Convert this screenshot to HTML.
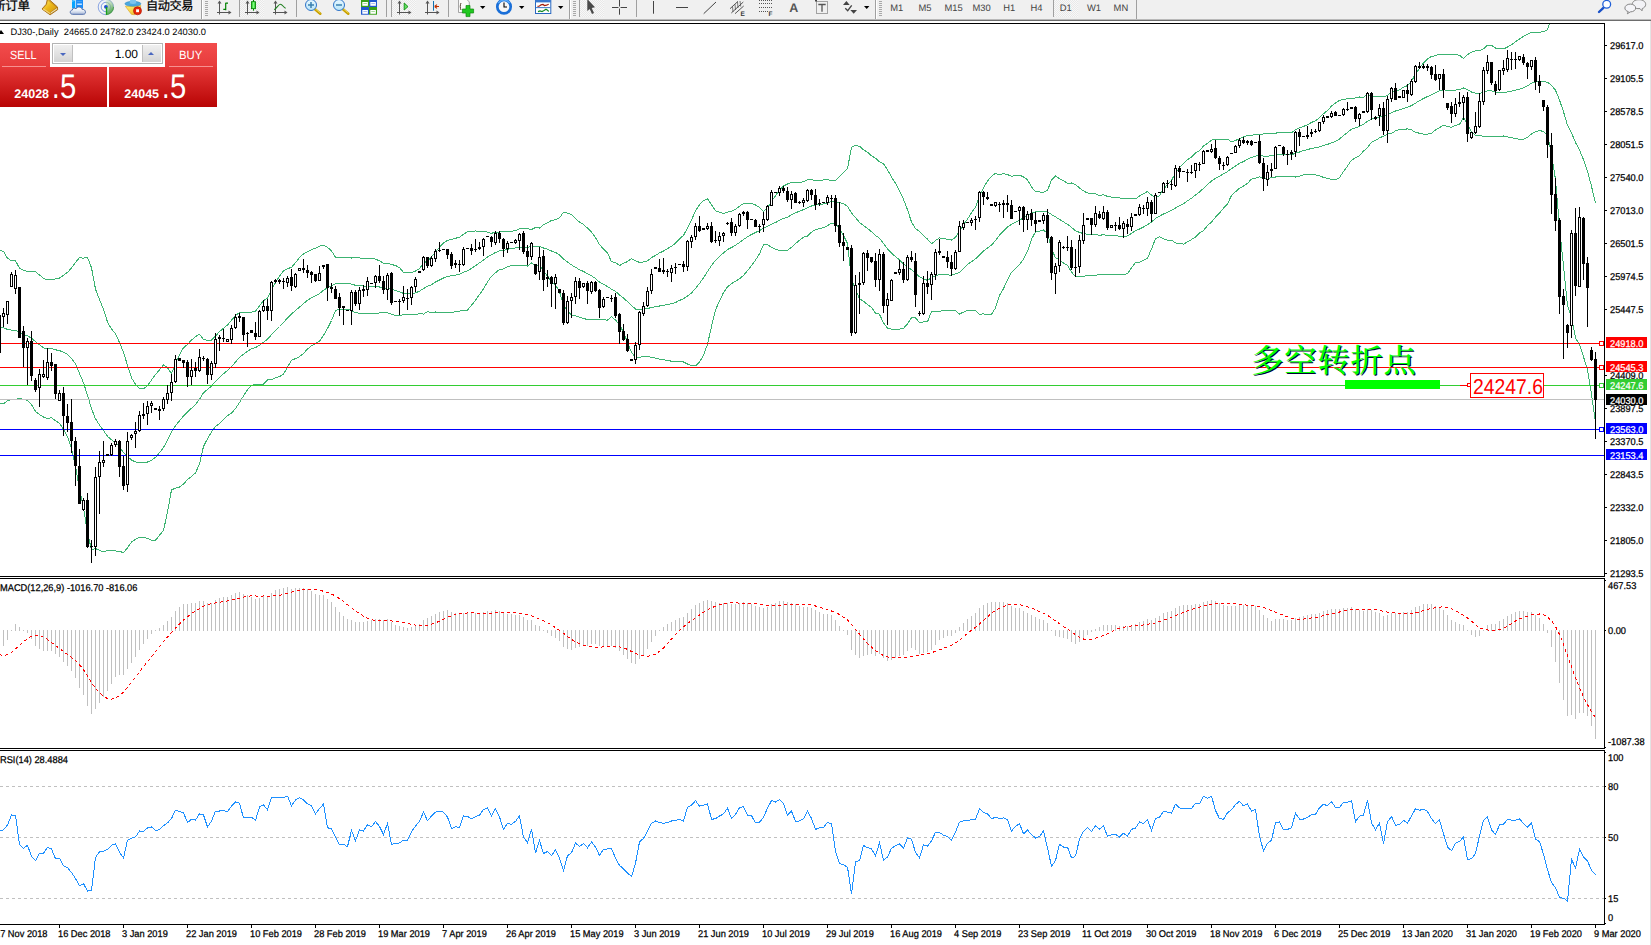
<!DOCTYPE html>
<html><head><meta charset="utf-8"><title>DJ30-,Daily</title>
<style>
html,body{margin:0;padding:0;background:#fff;}
body{width:1651px;height:945px;position:relative;overflow:hidden;font-family:"Liberation Sans", "Noto Sans CJK SC", sans-serif;text-rendering:geometricPrecision;}
</style></head><body>
<svg id="chart" width="1651" height="945" viewBox="0 0 1651 945" style="position:absolute;left:0;top:0" font-family='"Liberation Sans", "Noto Sans CJK SC", sans-serif' font-size="9.8" text-rendering="geometricPrecision"><style>.k{stroke:#000;stroke-width:.25px}.w{stroke:#fff;stroke-width:.25px}.k,.w{transform-box:fill-box;transform-origin:0 0;transform:scaleX(0.945)}</style><defs><clipPath id="cpMain"><rect x="0" y="24" width="1604" height="552"/></clipPath><clipPath id="cpMacd"><rect x="0" y="579" width="1604" height="169"/></clipPath><clipPath id="cpRsi"><rect x="0" y="751" width="1604" height="173"/></clipPath></defs><g clip-path="url(#cpMain)" fill="none" stroke="#3CB371" stroke-width="1" shape-rendering="crispEdges"><polyline points="-0.5,249.9 3.5,251.5 7.5,258.2 11.5,260.8 15.5,260.8 19.5,268.1 23.5,270.1 27.5,271.5 31.5,271.4 35.5,271.8 39.5,274.9 43.5,278.5 47.5,279.7 51.5,279.8 55.5,278.8 59.5,278.0 63.5,275.4 67.5,272.3 71.5,268.1 75.5,262.3 79.5,257.6 83.5,258.2 87.5,257.3 91.5,267.7 95.5,289.1 99.5,299.6 103.5,309.5 107.5,322.1 111.5,328.9 115.5,333.8 119.5,342.6 123.5,352.6 127.5,365.2 131.5,377.9 135.5,384.4 139.5,388.8 143.5,388.7 147.5,385.6 151.5,380.0 155.5,374.4 159.5,370.0 163.5,364.8 167.5,367.6 171.5,373.7 175.5,363.4 179.5,354.6 183.5,347.7 187.5,344.4 191.5,340.1 195.5,336.5 199.5,334.3 203.5,339.3 207.5,340.3 211.5,340.1 215.5,336.2 219.5,331.6 223.5,328.2 227.5,325.0 231.5,320.3 235.5,315.4 239.5,312.4 243.5,312.5 247.5,312.6 251.5,312.2 255.5,311.1 259.5,305.9 263.5,300.5 267.5,298.4 271.5,289.5 275.5,282.7 279.5,276.2 283.5,271.0 287.5,268.5 291.5,267.5 295.5,262.6 299.5,257.6 303.5,253.9 307.5,251.7 311.5,249.6 315.5,248.2 319.5,246.1 323.5,245.1 327.5,247.4 331.5,250.9 335.5,257.2 339.5,257.7 343.5,257.6 347.5,257.7 351.5,258.0 355.5,257.7 359.5,258.0 363.5,258.5 367.5,258.9 371.5,258.7 375.5,259.1 379.5,260.9 383.5,263.1 387.5,263.3 391.5,264.6 395.5,265.4 399.5,267.7 403.5,272.4 407.5,273.0 411.5,272.8 415.5,271.0 419.5,268.7 423.5,263.0 427.5,261.1 431.5,256.7 435.5,252.0 439.5,247.1 443.5,243.1 447.5,240.3 451.5,239.3 455.5,238.3 459.5,237.2 463.5,234.3 467.5,231.8 471.5,231.3 475.5,231.0 479.5,231.4 483.5,231.2 487.5,232.2 491.5,233.3 495.5,232.2 499.5,232.0 503.5,231.8 507.5,231.8 511.5,231.4 515.5,230.5 519.5,228.8 523.5,228.8 527.5,228.7 531.5,229.5 535.5,227.5 539.5,228.1 543.5,224.6 547.5,222.8 551.5,220.4 555.5,219.8 559.5,217.8 563.5,212.3 567.5,213.2 571.5,214.6 575.5,218.7 579.5,222.1 583.5,224.5 587.5,228.1 591.5,232.2 595.5,237.5 599.5,244.6 603.5,249.0 607.5,252.8 611.5,261.8 615.5,262.5 619.5,265.5 623.5,263.4 627.5,261.5 631.5,258.6 635.5,260.9 639.5,262.4 643.5,261.9 647.5,260.9 651.5,257.6 655.5,255.4 659.5,252.9 663.5,251.1 667.5,248.5 671.5,246.3 675.5,243.1 679.5,238.8 683.5,235.5 687.5,227.8 691.5,220.1 695.5,210.9 699.5,204.8 703.5,200.5 707.5,198.9 711.5,204.7 715.5,210.8 719.5,212.1 723.5,213.4 727.5,212.2 731.5,211.2 735.5,209.3 739.5,206.2 743.5,203.6 747.5,203.2 751.5,203.3 755.5,205.0 759.5,207.3 763.5,211.5 767.5,208.2 771.5,201.1 775.5,195.7 779.5,190.1 783.5,186.0 787.5,184.0 791.5,182.2 795.5,182.2 799.5,182.2 803.5,181.9 807.5,179.7 811.5,179.8 815.5,180.4 819.5,180.3 823.5,180.0 827.5,179.9 831.5,180.2 835.5,180.4 839.5,176.4 843.5,172.3 847.5,168.7 851.5,147.1 855.5,145.5 859.5,146.3 863.5,149.7 867.5,152.2 871.5,155.9 875.5,158.2 879.5,161.9 883.5,163.9 887.5,169.8 891.5,177.0 895.5,183.3 899.5,190.7 903.5,199.3 907.5,209.7 911.5,222.0 915.5,228.8 919.5,231.3 923.5,235.3 927.5,239.2 931.5,243.8 935.5,240.6 939.5,237.8 943.5,238.7 947.5,239.2 951.5,240.0 955.5,237.2 959.5,231.2 963.5,224.7 967.5,219.1 971.5,212.7 975.5,207.1 979.5,195.8 983.5,187.8 987.5,181.1 991.5,176.2 995.5,173.2 999.5,174.9 1003.5,173.6 1007.5,174.5 1011.5,176.3 1015.5,175.7 1019.5,175.2 1023.5,176.9 1027.5,179.8 1031.5,187.0 1035.5,191.7 1039.5,192.0 1043.5,192.2 1047.5,190.3 1051.5,180.2 1055.5,175.9 1059.5,178.7 1063.5,180.8 1067.5,183.2 1071.5,183.0 1075.5,184.6 1079.5,187.9 1083.5,190.9 1087.5,193.0 1091.5,193.6 1095.5,193.9 1099.5,195.7 1103.5,194.7 1107.5,196.4 1111.5,197.1 1115.5,197.2 1119.5,197.8 1123.5,199.0 1127.5,198.2 1131.5,198.7 1135.5,198.9 1139.5,195.9 1143.5,193.9 1147.5,191.4 1151.5,195.1 1155.5,198.1 1159.5,195.5 1163.5,189.2 1167.5,184.3 1171.5,180.4 1175.5,173.1 1179.5,167.7 1183.5,163.2 1187.5,159.8 1191.5,156.9 1195.5,153.1 1199.5,150.7 1203.5,146.0 1207.5,143.4 1211.5,140.1 1215.5,139.3 1219.5,139.1 1223.5,139.7 1227.5,139.3 1231.5,141.7 1235.5,140.4 1239.5,138.7 1243.5,136.9 1247.5,135.4 1251.5,135.7 1255.5,134.2 1259.5,134.7 1263.5,133.8 1267.5,133.8 1271.5,134.0 1275.5,133.2 1279.5,132.4 1283.5,132.6 1287.5,132.7 1291.5,133.0 1295.5,129.6 1299.5,127.9 1303.5,126.5 1307.5,124.7 1311.5,122.5 1315.5,120.7 1319.5,117.8 1323.5,113.7 1327.5,110.5 1331.5,106.1 1335.5,102.9 1339.5,100.4 1343.5,99.6 1347.5,98.8 1351.5,98.5 1355.5,97.9 1359.5,97.0 1363.5,97.3 1367.5,94.5 1371.5,96.1 1375.5,96.1 1379.5,96.1 1383.5,96.8 1387.5,95.4 1391.5,91.6 1395.5,91.2 1399.5,89.9 1403.5,87.2 1407.5,85.6 1411.5,81.3 1415.5,73.9 1419.5,68.3 1423.5,63.0 1427.5,58.9 1431.5,56.4 1435.5,55.7 1439.5,54.2 1443.5,54.4 1447.5,54.3 1451.5,54.1 1455.5,54.8 1459.5,55.1 1463.5,58.7 1467.5,54.6 1471.5,52.2 1475.5,50.9 1479.5,51.0 1483.5,48.8 1487.5,45.2 1491.5,45.4 1495.5,48.1 1499.5,48.4 1503.5,48.9 1507.5,47.1 1511.5,44.7 1515.5,41.7 1519.5,39.1 1523.5,36.4 1527.5,34.4 1531.5,32.3 1535.5,32.1 1539.5,32.1 1543.5,31.8 1547.5,29.7 1551.5,16.5 1555.5,0.7 1559.5,-27.2 1563.5,-42.6 1567.5,-54.8 1571.5,-52.0 1575.5,-52.7 1579.5,-45.0 1583.5,-37.4 1587.5,-27.7 1591.5,-21.7 1595.5,-15.8"/><polyline points="-0.5,326.8 3.5,327.6 7.5,329.5 11.5,330.1 15.5,330.1 19.5,333.1 23.5,334.8 27.5,335.9 31.5,338.1 35.5,341.6 39.5,344.7 43.5,347.8 47.5,349.0 51.5,348.7 55.5,349.8 59.5,350.6 63.5,352.3 67.5,354.4 71.5,358.4 75.5,364.0 79.5,373.5 83.5,382.8 87.5,395.2 91.5,408.7 95.5,418.8 99.5,425.0 103.5,430.6 107.5,436.3 111.5,439.8 115.5,442.4 119.5,447.0 123.5,452.6 127.5,456.5 131.5,460.0 135.5,461.9 139.5,463.0 143.5,462.9 147.5,462.0 151.5,460.2 155.5,457.4 159.5,452.7 163.5,447.6 167.5,439.9 171.5,431.7 175.5,425.8 179.5,420.8 183.5,415.9 187.5,412.0 191.5,408.2 195.5,404.7 199.5,399.2 203.5,392.8 207.5,389.5 211.5,386.0 215.5,381.4 219.5,377.6 223.5,373.7 227.5,370.4 231.5,366.6 235.5,362.0 239.5,357.4 243.5,354.2 247.5,351.2 251.5,348.8 255.5,347.7 259.5,345.2 263.5,342.4 267.5,339.1 271.5,334.7 275.5,330.2 279.5,326.5 283.5,322.6 287.5,317.8 291.5,313.9 295.5,310.6 299.5,307.1 303.5,303.6 307.5,300.3 311.5,297.7 315.5,295.9 319.5,293.7 323.5,290.2 327.5,287.9 331.5,285.7 335.5,283.8 339.5,283.6 343.5,283.7 347.5,283.7 351.5,284.1 355.5,285.3 359.5,285.6 363.5,286.1 367.5,286.3 371.5,286.2 375.5,286.3 379.5,287.0 383.5,288.0 387.5,288.1 391.5,289.4 395.5,290.5 399.5,291.8 403.5,293.4 407.5,293.9 411.5,293.8 415.5,292.9 419.5,291.1 423.5,288.6 427.5,286.3 431.5,284.7 435.5,282.0 439.5,280.0 443.5,278.0 447.5,276.6 451.5,275.8 455.5,275.1 459.5,274.2 463.5,272.2 467.5,270.9 471.5,268.3 475.5,265.7 479.5,262.9 483.5,260.0 487.5,257.0 491.5,254.7 495.5,252.5 499.5,250.8 503.5,250.4 507.5,249.2 511.5,248.5 515.5,247.9 519.5,247.2 523.5,247.2 527.5,247.4 531.5,246.2 535.5,246.8 539.5,246.4 543.5,248.0 547.5,249.3 551.5,251.0 555.5,252.4 559.5,254.8 563.5,258.9 567.5,262.1 571.5,264.9 575.5,267.3 579.5,269.7 583.5,271.4 587.5,273.9 591.5,275.8 595.5,278.4 599.5,282.1 603.5,284.4 607.5,286.5 611.5,289.2 615.5,291.3 619.5,295.0 623.5,298.0 627.5,301.7 631.5,305.6 635.5,309.0 639.5,309.9 643.5,309.1 647.5,308.6 651.5,307.4 655.5,306.8 659.5,306.0 663.5,305.4 667.5,304.4 671.5,303.7 675.5,302.5 679.5,300.4 683.5,298.8 687.5,295.9 691.5,292.9 695.5,288.4 699.5,283.4 703.5,277.8 707.5,271.6 711.5,265.6 715.5,260.4 719.5,256.6 723.5,252.9 727.5,249.5 731.5,247.5 735.5,245.3 739.5,242.5 743.5,239.5 747.5,236.9 751.5,234.5 755.5,232.5 759.5,230.6 763.5,228.2 767.5,226.4 771.5,224.2 775.5,222.5 779.5,220.4 783.5,218.4 787.5,217.1 791.5,214.8 795.5,212.9 799.5,211.2 803.5,209.6 807.5,207.9 811.5,206.0 815.5,205.0 819.5,204.4 823.5,203.9 827.5,202.8 831.5,201.7 835.5,201.7 839.5,202.5 843.5,203.9 847.5,206.1 851.5,213.1 855.5,217.7 859.5,222.4 863.5,225.5 867.5,228.4 871.5,231.8 875.5,235.6 879.5,238.1 883.5,243.5 887.5,248.9 891.5,253.2 895.5,256.6 899.5,259.9 903.5,263.8 907.5,266.8 911.5,269.8 915.5,273.3 919.5,276.8 923.5,278.7 927.5,280.5 931.5,277.6 935.5,276.0 939.5,274.5 943.5,274.8 947.5,274.9 951.5,275.3 955.5,273.9 959.5,272.6 963.5,268.4 967.5,264.6 971.5,261.6 975.5,258.9 979.5,255.0 983.5,250.9 987.5,248.0 991.5,245.2 995.5,240.6 999.5,235.1 1003.5,231.1 1007.5,227.0 1011.5,224.3 1015.5,222.2 1019.5,220.0 1023.5,218.0 1027.5,215.6 1031.5,213.1 1035.5,211.7 1039.5,211.5 1043.5,211.1 1047.5,211.9 1051.5,214.5 1055.5,216.9 1059.5,219.4 1063.5,221.9 1067.5,224.3 1071.5,227.4 1075.5,230.7 1079.5,232.4 1083.5,233.6 1087.5,234.2 1091.5,234.5 1095.5,234.6 1099.5,235.2 1103.5,234.8 1107.5,235.5 1111.5,235.8 1115.5,235.8 1119.5,236.2 1123.5,236.6 1127.5,236.0 1131.5,233.3 1135.5,230.7 1139.5,229.0 1143.5,227.0 1147.5,224.8 1151.5,222.0 1155.5,218.5 1159.5,216.1 1163.5,214.0 1167.5,212.2 1171.5,210.2 1175.5,208.0 1179.5,205.7 1183.5,203.7 1187.5,200.9 1191.5,198.2 1195.5,195.1 1199.5,191.9 1203.5,188.3 1207.5,184.5 1211.5,181.1 1215.5,178.2 1219.5,176.1 1223.5,173.9 1227.5,171.6 1231.5,168.6 1235.5,166.1 1239.5,163.4 1243.5,161.5 1247.5,159.3 1251.5,157.4 1255.5,156.1 1259.5,155.7 1263.5,156.1 1267.5,156.1 1271.5,155.9 1275.5,155.1 1279.5,154.2 1283.5,154.4 1287.5,154.5 1291.5,154.7 1295.5,153.3 1299.5,152.0 1303.5,150.6 1307.5,149.5 1311.5,148.5 1315.5,147.8 1319.5,146.9 1323.5,145.5 1327.5,144.4 1331.5,142.8 1335.5,141.4 1339.5,139.0 1343.5,135.5 1347.5,132.4 1351.5,129.3 1355.5,127.9 1359.5,126.3 1363.5,124.2 1367.5,121.2 1371.5,119.1 1375.5,118.3 1379.5,116.9 1383.5,116.6 1387.5,114.7 1391.5,112.6 1395.5,111.0 1399.5,109.8 1403.5,108.4 1407.5,107.2 1411.5,105.6 1415.5,103.1 1419.5,100.7 1423.5,98.5 1427.5,96.5 1431.5,94.8 1435.5,92.9 1439.5,90.9 1443.5,89.7 1447.5,90.5 1451.5,90.7 1455.5,90.1 1459.5,89.7 1463.5,88.0 1467.5,89.8 1471.5,92.0 1475.5,93.3 1479.5,93.5 1483.5,92.4 1487.5,90.8 1491.5,90.9 1495.5,92.2 1499.5,92.3 1503.5,92.4 1507.5,91.9 1511.5,91.2 1515.5,90.1 1519.5,89.2 1523.5,87.9 1527.5,85.8 1531.5,83.1 1535.5,82.0 1539.5,81.2 1543.5,81.7 1547.5,82.3 1551.5,85.4 1555.5,90.2 1559.5,100.0 1563.5,111.7 1567.5,125.3 1571.5,132.8 1575.5,142.6 1579.5,149.9 1583.5,159.7 1587.5,171.2 1591.5,186.2 1595.5,203.3"/><polyline points="-0.5,403.8 3.5,403.7 7.5,400.8 11.5,399.3 15.5,399.4 19.5,398.1 23.5,399.5 27.5,400.2 31.5,404.7 35.5,411.4 39.5,414.5 43.5,417.0 47.5,418.4 51.5,417.7 55.5,420.8 59.5,423.3 63.5,429.2 67.5,436.6 71.5,448.8 75.5,465.8 79.5,489.3 83.5,507.5 87.5,533.0 91.5,549.7 95.5,548.5 99.5,550.4 103.5,551.7 107.5,550.6 111.5,550.7 115.5,550.9 119.5,551.4 123.5,552.6 127.5,547.8 131.5,542.0 135.5,539.3 139.5,537.1 143.5,537.1 147.5,538.5 151.5,540.3 155.5,540.3 159.5,535.3 163.5,530.4 167.5,512.2 171.5,489.8 175.5,488.2 179.5,487.0 183.5,484.1 187.5,479.6 191.5,476.4 195.5,472.9 199.5,464.1 203.5,446.4 207.5,438.8 211.5,431.8 215.5,426.5 219.5,423.6 223.5,419.3 227.5,415.8 231.5,413.0 235.5,408.6 239.5,402.5 243.5,395.9 247.5,389.8 251.5,385.3 255.5,384.3 259.5,384.5 263.5,384.2 267.5,379.8 271.5,379.9 275.5,377.8 279.5,376.7 283.5,374.3 287.5,367.1 291.5,360.3 295.5,358.6 299.5,356.6 303.5,353.4 307.5,349.0 311.5,345.8 315.5,343.7 319.5,341.3 323.5,335.4 327.5,328.5 331.5,320.5 335.5,310.4 339.5,309.5 343.5,309.8 347.5,309.6 351.5,310.3 355.5,312.8 359.5,313.2 363.5,313.7 367.5,313.7 371.5,313.6 375.5,313.6 379.5,313.0 383.5,312.9 387.5,312.8 391.5,314.3 395.5,315.5 399.5,316.0 403.5,314.4 407.5,314.9 411.5,314.9 415.5,314.7 419.5,313.4 423.5,314.1 427.5,311.6 431.5,312.6 435.5,312.0 439.5,312.9 443.5,312.9 447.5,312.9 451.5,312.2 455.5,311.9 459.5,311.3 463.5,310.0 467.5,310.0 471.5,305.3 475.5,300.3 479.5,294.5 483.5,288.9 487.5,281.8 491.5,276.2 495.5,272.7 499.5,269.5 503.5,268.9 507.5,266.6 511.5,265.6 515.5,265.3 519.5,265.5 523.5,265.7 527.5,266.1 531.5,263.0 535.5,266.0 539.5,264.7 543.5,271.3 547.5,275.9 551.5,281.6 555.5,285.1 559.5,291.7 563.5,305.5 567.5,311.1 571.5,315.2 575.5,315.9 579.5,317.3 583.5,318.4 587.5,319.6 591.5,319.4 595.5,319.3 599.5,319.5 603.5,319.8 607.5,320.1 611.5,316.6 615.5,320.1 619.5,324.5 623.5,332.6 627.5,341.9 631.5,352.6 635.5,357.1 639.5,357.5 643.5,356.3 647.5,356.3 651.5,357.3 655.5,358.2 659.5,359.1 663.5,359.7 667.5,360.4 671.5,361.2 675.5,361.9 679.5,361.9 683.5,362.0 687.5,364.0 691.5,365.6 695.5,365.9 699.5,362.0 703.5,355.2 707.5,344.3 711.5,326.5 715.5,309.9 719.5,301.1 723.5,292.5 727.5,286.9 731.5,283.7 735.5,281.3 739.5,278.8 743.5,275.4 747.5,270.6 751.5,265.7 755.5,260.0 759.5,253.8 763.5,244.8 767.5,244.6 771.5,247.2 775.5,249.3 779.5,250.6 783.5,250.9 787.5,250.3 791.5,247.3 795.5,243.6 799.5,240.3 803.5,237.2 807.5,236.1 811.5,232.2 815.5,229.5 819.5,228.6 823.5,227.8 827.5,225.7 831.5,223.2 835.5,222.9 839.5,228.6 843.5,235.4 847.5,243.4 851.5,279.1 855.5,289.9 859.5,298.5 863.5,301.3 867.5,304.6 871.5,307.6 875.5,313.0 879.5,314.3 883.5,323.0 887.5,328.0 891.5,329.3 895.5,329.9 899.5,329.1 903.5,328.3 907.5,323.8 911.5,317.7 915.5,317.9 919.5,322.4 923.5,322.0 927.5,321.9 931.5,311.4 935.5,311.4 939.5,311.1 943.5,310.8 947.5,310.7 951.5,310.7 955.5,310.7 959.5,314.0 963.5,312.1 967.5,310.1 971.5,310.5 975.5,310.7 979.5,314.2 983.5,313.9 987.5,314.8 991.5,314.3 995.5,308.0 999.5,295.4 1003.5,288.7 1007.5,279.6 1011.5,272.2 1015.5,268.7 1019.5,264.7 1023.5,259.2 1027.5,251.4 1031.5,239.3 1035.5,231.8 1039.5,231.1 1043.5,230.0 1047.5,233.4 1051.5,248.8 1055.5,257.8 1059.5,260.0 1063.5,263.0 1067.5,265.4 1071.5,271.9 1075.5,276.7 1079.5,277.0 1083.5,276.2 1087.5,275.5 1091.5,275.4 1095.5,275.3 1099.5,274.6 1103.5,274.9 1107.5,274.6 1111.5,274.5 1115.5,274.5 1119.5,274.5 1123.5,274.2 1127.5,273.9 1131.5,267.8 1135.5,262.6 1139.5,262.1 1143.5,260.1 1147.5,258.1 1151.5,249.0 1155.5,238.8 1159.5,236.7 1163.5,238.7 1167.5,240.2 1171.5,240.1 1175.5,242.9 1179.5,243.6 1183.5,244.1 1187.5,241.9 1191.5,239.5 1195.5,237.1 1199.5,233.0 1203.5,230.5 1207.5,225.6 1211.5,222.0 1215.5,217.1 1219.5,213.1 1223.5,208.1 1227.5,203.9 1231.5,195.4 1235.5,191.8 1239.5,188.2 1243.5,186.1 1247.5,183.3 1251.5,179.1 1255.5,178.1 1259.5,176.8 1263.5,178.4 1267.5,178.4 1271.5,177.8 1275.5,177.0 1279.5,176.1 1283.5,176.2 1287.5,176.3 1291.5,176.3 1295.5,177.0 1299.5,176.1 1303.5,174.8 1307.5,174.4 1311.5,174.5 1315.5,174.8 1319.5,175.9 1323.5,177.4 1327.5,178.4 1331.5,179.5 1335.5,179.9 1339.5,177.6 1343.5,171.5 1347.5,166.0 1351.5,160.2 1355.5,157.9 1359.5,155.7 1363.5,151.1 1367.5,147.8 1371.5,142.1 1375.5,140.6 1379.5,137.7 1383.5,136.3 1387.5,134.1 1391.5,133.5 1395.5,130.8 1399.5,129.6 1403.5,129.6 1407.5,128.8 1411.5,129.9 1415.5,132.4 1419.5,133.2 1423.5,134.1 1427.5,134.1 1431.5,133.2 1435.5,130.0 1439.5,127.6 1443.5,125.1 1447.5,126.7 1451.5,127.3 1455.5,125.3 1459.5,124.4 1463.5,117.3 1467.5,124.9 1471.5,131.7 1475.5,135.7 1479.5,135.9 1483.5,136.1 1487.5,136.5 1491.5,136.5 1495.5,136.3 1499.5,136.2 1503.5,136.0 1507.5,136.8 1511.5,137.7 1515.5,138.5 1519.5,139.4 1523.5,139.3 1527.5,137.2 1531.5,134.0 1535.5,131.9 1539.5,130.3 1543.5,131.7 1547.5,134.9 1551.5,154.4 1555.5,179.6 1559.5,227.1 1563.5,266.0 1567.5,305.3 1571.5,317.6 1575.5,337.8 1579.5,344.8 1583.5,356.8 1587.5,370.0 1591.5,394.2 1595.5,422.3"/></g><g shape-rendering="crispEdges"><rect x="0" y="399" width="1604" height="1" fill="#c0c0c0"/><rect x="0" y="343" width="1604" height="1" fill="#ff0000"/><rect x="0" y="367" width="1604" height="1" fill="#ff0000"/><rect x="0" y="385" width="1604" height="1" fill="#32CD32"/><rect x="0" y="429" width="1604" height="1" fill="#0000ff"/><rect x="0" y="455" width="1604" height="1" fill="#0000ff"/><rect x="1599.5" y="341.5" width="4" height="4" fill="#fff" stroke="#ff0000" stroke-width="1"/><rect x="1599.5" y="365.5" width="4" height="4" fill="#fff" stroke="#ff0000" stroke-width="1"/><rect x="1599.5" y="383.5" width="4" height="4" fill="#fff" stroke="#32CD32" stroke-width="1"/><rect x="1599.5" y="427.5" width="4" height="4" fill="#fff" stroke="#0000ff" stroke-width="1"/></g><g clip-path="url(#cpMain)" shape-rendering="crispEdges"><g fill="#000"><rect x="-1" y="315" width="1" height="38"/><rect x="-2" y="315" width="3" height="38"/><rect x="-1" y="316" width="1" height="36" fill="#fff"/><rect x="3" y="308" width="1" height="19"/><rect x="2" y="313" width="3" height="4"/><rect x="3" y="314" width="1" height="2" fill="#fff"/><rect x="7" y="301" width="1" height="23"/><rect x="6" y="301" width="3" height="14"/><rect x="7" y="302" width="1" height="12" fill="#fff"/><rect x="11" y="272" width="1" height="15"/><rect x="10" y="274" width="3" height="13"/><rect x="11" y="275" width="1" height="11" fill="#fff"/><rect x="15" y="270" width="1" height="24"/><rect x="14" y="275" width="3" height="14"/><rect x="15" y="276" width="1" height="12" fill="#fff"/><rect x="19" y="287" width="1" height="51"/><rect x="18" y="287" width="3" height="51"/><rect x="23" y="326" width="1" height="41"/><rect x="22" y="331" width="3" height="17"/><rect x="27" y="338" width="1" height="47"/><rect x="26" y="341" width="3" height="7"/><rect x="27" y="342" width="1" height="5" fill="#fff"/><rect x="31" y="331" width="1" height="50"/><rect x="30" y="341" width="3" height="35"/><rect x="35" y="378" width="1" height="14"/><rect x="34" y="380" width="3" height="10"/><rect x="39" y="369" width="1" height="38"/><rect x="38" y="374" width="3" height="14"/><rect x="39" y="375" width="1" height="12" fill="#fff"/><rect x="43" y="360" width="1" height="18"/><rect x="42" y="374" width="3" height="3"/><rect x="43" y="375" width="1" height="1" fill="#fff"/><rect x="47" y="348" width="1" height="32"/><rect x="46" y="362" width="3" height="16"/><rect x="47" y="363" width="1" height="14" fill="#fff"/><rect x="51" y="353" width="1" height="18"/><rect x="50" y="362" width="3" height="4"/><rect x="55" y="364" width="1" height="35"/><rect x="54" y="364" width="3" height="30"/><rect x="59" y="390" width="1" height="11"/><rect x="58" y="393" width="3" height="8"/><rect x="59" y="394" width="1" height="6" fill="#fff"/><rect x="63" y="387" width="1" height="49"/><rect x="62" y="393" width="3" height="23"/><rect x="67" y="404" width="1" height="28"/><rect x="66" y="416" width="3" height="7"/><rect x="71" y="399" width="1" height="54"/><rect x="70" y="422" width="3" height="19"/><rect x="75" y="437" width="1" height="49"/><rect x="74" y="441" width="3" height="25"/><rect x="79" y="449" width="1" height="55"/><rect x="78" y="466" width="3" height="38"/><rect x="83" y="498" width="1" height="13"/><rect x="82" y="500" width="3" height="10"/><rect x="83" y="501" width="1" height="8" fill="#fff"/><rect x="87" y="493" width="1" height="55"/><rect x="86" y="500" width="3" height="47"/><rect x="91" y="540" width="1" height="23"/><rect x="90" y="546" width="3" height="1"/><rect x="95" y="467" width="1" height="89"/><rect x="94" y="477" width="3" height="70"/><rect x="95" y="478" width="1" height="68" fill="#fff"/><rect x="99" y="451" width="1" height="63"/><rect x="98" y="462" width="3" height="15"/><rect x="99" y="463" width="1" height="13" fill="#fff"/><rect x="103" y="441" width="1" height="26"/><rect x="102" y="460" width="3" height="3"/><rect x="103" y="461" width="1" height="1" fill="#fff"/><rect x="107" y="454" width="1" height="2"/><rect x="106" y="454" width="3" height="2"/><rect x="111" y="443" width="1" height="13"/><rect x="110" y="445" width="3" height="10"/><rect x="111" y="446" width="1" height="8" fill="#fff"/><rect x="115" y="439" width="1" height="8"/><rect x="114" y="441" width="3" height="4"/><rect x="115" y="442" width="1" height="2" fill="#fff"/><rect x="119" y="440" width="1" height="37"/><rect x="118" y="441" width="3" height="26"/><rect x="123" y="456" width="1" height="34"/><rect x="122" y="466" width="3" height="20"/><rect x="127" y="432" width="1" height="60"/><rect x="126" y="441" width="3" height="44"/><rect x="127" y="442" width="1" height="42" fill="#fff"/><rect x="131" y="434" width="1" height="6"/><rect x="130" y="435" width="3" height="3"/><rect x="131" y="436" width="1" height="1" fill="#fff"/><rect x="135" y="422" width="1" height="26"/><rect x="134" y="431" width="3" height="3"/><rect x="135" y="432" width="1" height="1" fill="#fff"/><rect x="139" y="411" width="1" height="21"/><rect x="138" y="415" width="3" height="16"/><rect x="139" y="416" width="1" height="14" fill="#fff"/><rect x="143" y="403" width="1" height="16"/><rect x="142" y="414" width="3" height="2"/><rect x="147" y="401" width="1" height="24"/><rect x="146" y="406" width="3" height="8"/><rect x="147" y="407" width="1" height="6" fill="#fff"/><rect x="151" y="401" width="1" height="12"/><rect x="150" y="403" width="3" height="3"/><rect x="151" y="404" width="1" height="1" fill="#fff"/><rect x="155" y="408" width="1" height="2"/><rect x="154" y="408" width="3" height="2"/><rect x="159" y="406" width="1" height="14"/><rect x="158" y="409" width="3" height="2"/><rect x="163" y="397" width="1" height="14"/><rect x="162" y="399" width="3" height="10"/><rect x="163" y="400" width="1" height="8" fill="#fff"/><rect x="167" y="385" width="1" height="19"/><rect x="166" y="393" width="3" height="7"/><rect x="167" y="394" width="1" height="5" fill="#fff"/><rect x="171" y="374" width="1" height="27"/><rect x="170" y="382" width="3" height="11"/><rect x="171" y="383" width="1" height="9" fill="#fff"/><rect x="175" y="355" width="1" height="28"/><rect x="174" y="359" width="3" height="23"/><rect x="175" y="360" width="1" height="21" fill="#fff"/><rect x="179" y="358" width="1" height="3"/><rect x="178" y="358" width="3" height="3"/><rect x="183" y="360" width="1" height="8"/><rect x="182" y="360" width="3" height="3"/><rect x="187" y="360" width="1" height="27"/><rect x="186" y="362" width="3" height="15"/><rect x="191" y="359" width="1" height="26"/><rect x="190" y="370" width="3" height="7"/><rect x="191" y="371" width="1" height="5" fill="#fff"/><rect x="195" y="362" width="1" height="15"/><rect x="194" y="368" width="3" height="3"/><rect x="199" y="349" width="1" height="23"/><rect x="198" y="357" width="3" height="14"/><rect x="199" y="358" width="1" height="12" fill="#fff"/><rect x="203" y="356" width="1" height="5"/><rect x="202" y="358" width="3" height="1"/><rect x="207" y="358" width="1" height="26"/><rect x="206" y="359" width="3" height="16"/><rect x="211" y="361" width="1" height="19"/><rect x="210" y="363" width="3" height="12"/><rect x="211" y="364" width="1" height="10" fill="#fff"/><rect x="215" y="333" width="1" height="35"/><rect x="214" y="339" width="3" height="25"/><rect x="215" y="340" width="1" height="23" fill="#fff"/><rect x="219" y="335" width="1" height="16"/><rect x="218" y="337" width="3" height="2"/><rect x="223" y="329" width="1" height="13"/><rect x="222" y="338" width="3" height="1"/><rect x="227" y="339" width="1" height="3"/><rect x="226" y="339" width="3" height="3"/><rect x="227" y="340" width="1" height="1" fill="#fff"/><rect x="231" y="325" width="1" height="19"/><rect x="230" y="328" width="3" height="12"/><rect x="231" y="329" width="1" height="10" fill="#fff"/><rect x="235" y="314" width="1" height="15"/><rect x="234" y="317" width="3" height="11"/><rect x="235" y="318" width="1" height="9" fill="#fff"/><rect x="239" y="313" width="1" height="9"/><rect x="238" y="316" width="3" height="2"/><rect x="243" y="317" width="1" height="24"/><rect x="242" y="317" width="3" height="18"/><rect x="247" y="332" width="1" height="15"/><rect x="246" y="333" width="3" height="1"/><rect x="251" y="330" width="1" height="3"/><rect x="250" y="330" width="3" height="3"/><rect x="255" y="322" width="1" height="18"/><rect x="254" y="333" width="3" height="4"/><rect x="259" y="310" width="1" height="27"/><rect x="258" y="311" width="3" height="26"/><rect x="259" y="312" width="1" height="24" fill="#fff"/><rect x="263" y="300" width="1" height="12"/><rect x="262" y="306" width="3" height="5"/><rect x="263" y="307" width="1" height="3" fill="#fff"/><rect x="267" y="299" width="1" height="21"/><rect x="266" y="306" width="3" height="5"/><rect x="271" y="281" width="1" height="40"/><rect x="270" y="282" width="3" height="29"/><rect x="271" y="283" width="1" height="27" fill="#fff"/><rect x="275" y="279" width="1" height="4"/><rect x="274" y="280" width="3" height="2"/><rect x="279" y="279" width="1" height="5"/><rect x="278" y="280" width="3" height="2"/><rect x="283" y="278" width="1" height="11"/><rect x="282" y="281" width="3" height="1"/><rect x="287" y="276" width="1" height="11"/><rect x="286" y="278" width="3" height="5"/><rect x="287" y="279" width="1" height="3" fill="#fff"/><rect x="291" y="269" width="1" height="22"/><rect x="290" y="277" width="3" height="9"/><rect x="295" y="273" width="1" height="15"/><rect x="294" y="274" width="3" height="13"/><rect x="295" y="275" width="1" height="11" fill="#fff"/><rect x="299" y="268" width="1" height="3"/><rect x="298" y="268" width="3" height="3"/><rect x="299" y="269" width="1" height="1" fill="#fff"/><rect x="303" y="259" width="1" height="14"/><rect x="302" y="268" width="3" height="2"/><rect x="307" y="265" width="1" height="13"/><rect x="306" y="270" width="3" height="3"/><rect x="311" y="271" width="1" height="12"/><rect x="310" y="272" width="3" height="3"/><rect x="315" y="274" width="1" height="8"/><rect x="314" y="274" width="3" height="7"/><rect x="319" y="266" width="1" height="15"/><rect x="318" y="273" width="3" height="8"/><rect x="319" y="274" width="1" height="6" fill="#fff"/><rect x="323" y="265" width="1" height="4"/><rect x="322" y="265" width="3" height="2"/><rect x="327" y="264" width="1" height="37"/><rect x="326" y="264" width="3" height="24"/><rect x="331" y="283" width="1" height="10"/><rect x="330" y="287" width="3" height="2"/><rect x="335" y="286" width="1" height="13"/><rect x="334" y="289" width="3" height="10"/><rect x="339" y="293" width="1" height="23"/><rect x="338" y="297" width="3" height="11"/><rect x="343" y="306" width="1" height="19"/><rect x="342" y="306" width="3" height="2"/><rect x="347" y="310" width="1" height="1"/><rect x="346" y="310" width="3" height="1"/><rect x="351" y="290" width="1" height="35"/><rect x="350" y="292" width="3" height="19"/><rect x="351" y="293" width="1" height="17" fill="#fff"/><rect x="355" y="290" width="1" height="16"/><rect x="354" y="292" width="3" height="12"/><rect x="359" y="287" width="1" height="23"/><rect x="358" y="290" width="3" height="14"/><rect x="359" y="291" width="1" height="12" fill="#fff"/><rect x="363" y="285" width="1" height="12"/><rect x="362" y="289" width="3" height="2"/><rect x="367" y="277" width="1" height="19"/><rect x="366" y="281" width="3" height="9"/><rect x="367" y="282" width="1" height="7" fill="#fff"/><rect x="371" y="283" width="1" height="1"/><rect x="370" y="283" width="3" height="1"/><rect x="375" y="275" width="1" height="13"/><rect x="374" y="276" width="3" height="7"/><rect x="375" y="277" width="1" height="5" fill="#fff"/><rect x="379" y="265" width="1" height="18"/><rect x="378" y="276" width="3" height="5"/><rect x="383" y="276" width="1" height="18"/><rect x="382" y="281" width="3" height="9"/><rect x="387" y="273" width="1" height="27"/><rect x="386" y="275" width="3" height="15"/><rect x="387" y="276" width="1" height="13" fill="#fff"/><rect x="391" y="272" width="1" height="33"/><rect x="390" y="273" width="3" height="30"/><rect x="395" y="301" width="1" height="1"/><rect x="394" y="301" width="3" height="1"/><rect x="399" y="299" width="1" height="16"/><rect x="398" y="301" width="3" height="1"/><rect x="403" y="286" width="1" height="17"/><rect x="402" y="297" width="3" height="4"/><rect x="403" y="298" width="1" height="2" fill="#fff"/><rect x="407" y="289" width="1" height="21"/><rect x="406" y="298" width="3" height="1"/><rect x="411" y="286" width="1" height="19"/><rect x="410" y="287" width="3" height="11"/><rect x="411" y="288" width="1" height="9" fill="#fff"/><rect x="415" y="277" width="1" height="15"/><rect x="414" y="279" width="3" height="8"/><rect x="415" y="280" width="1" height="6" fill="#fff"/><rect x="419" y="271" width="1" height="2"/><rect x="418" y="271" width="3" height="2"/><rect x="423" y="256" width="1" height="15"/><rect x="422" y="257" width="3" height="13"/><rect x="423" y="258" width="1" height="11" fill="#fff"/><rect x="427" y="257" width="1" height="11"/><rect x="426" y="257" width="3" height="9"/><rect x="431" y="256" width="1" height="11"/><rect x="430" y="258" width="3" height="8"/><rect x="431" y="259" width="1" height="6" fill="#fff"/><rect x="435" y="249" width="1" height="13"/><rect x="434" y="251" width="3" height="8"/><rect x="435" y="252" width="1" height="6" fill="#fff"/><rect x="439" y="242" width="1" height="10"/><rect x="438" y="250" width="3" height="1"/><rect x="443" y="249" width="1" height="1"/><rect x="442" y="249" width="3" height="1"/><rect x="447" y="249" width="1" height="10"/><rect x="446" y="249" width="3" height="6"/><rect x="451" y="252" width="1" height="17"/><rect x="450" y="254" width="3" height="12"/><rect x="455" y="260" width="1" height="8"/><rect x="454" y="263" width="3" height="2"/><rect x="459" y="260" width="1" height="12"/><rect x="458" y="264" width="3" height="1"/><rect x="463" y="247" width="1" height="19"/><rect x="462" y="249" width="3" height="16"/><rect x="463" y="250" width="1" height="14" fill="#fff"/><rect x="467" y="248" width="1" height="1"/><rect x="466" y="248" width="3" height="1"/><rect x="471" y="244" width="1" height="11"/><rect x="470" y="248" width="3" height="3"/><rect x="475" y="239" width="1" height="13"/><rect x="474" y="249" width="3" height="1"/><rect x="479" y="242" width="1" height="8"/><rect x="478" y="247" width="3" height="2"/><rect x="483" y="238" width="1" height="18"/><rect x="482" y="239" width="3" height="8"/><rect x="483" y="240" width="1" height="6" fill="#fff"/><rect x="487" y="236" width="1" height="1"/><rect x="486" y="236" width="3" height="1"/><rect x="491" y="236" width="1" height="11"/><rect x="490" y="237" width="3" height="5"/><rect x="495" y="231" width="1" height="14"/><rect x="494" y="233" width="3" height="10"/><rect x="495" y="234" width="1" height="8" fill="#fff"/><rect x="499" y="231" width="1" height="12"/><rect x="498" y="233" width="3" height="6"/><rect x="503" y="238" width="1" height="19"/><rect x="502" y="239" width="3" height="10"/><rect x="507" y="241" width="1" height="12"/><rect x="506" y="243" width="3" height="6"/><rect x="507" y="244" width="1" height="4" fill="#fff"/><rect x="511" y="242" width="1" height="1"/><rect x="510" y="242" width="3" height="1"/><rect x="515" y="239" width="1" height="5"/><rect x="514" y="240" width="3" height="3"/><rect x="515" y="241" width="1" height="1" fill="#fff"/><rect x="519" y="233" width="1" height="17"/><rect x="518" y="234" width="3" height="7"/><rect x="519" y="235" width="1" height="5" fill="#fff"/><rect x="523" y="231" width="1" height="23"/><rect x="522" y="233" width="3" height="19"/><rect x="527" y="245" width="1" height="20"/><rect x="526" y="251" width="3" height="6"/><rect x="531" y="242" width="1" height="18"/><rect x="530" y="243" width="3" height="14"/><rect x="531" y="244" width="1" height="12" fill="#fff"/><rect x="535" y="264" width="1" height="11"/><rect x="534" y="264" width="3" height="10"/><rect x="539" y="247" width="1" height="33"/><rect x="538" y="257" width="3" height="15"/><rect x="539" y="258" width="1" height="13" fill="#fff"/><rect x="543" y="250" width="1" height="41"/><rect x="542" y="256" width="3" height="24"/><rect x="547" y="270" width="1" height="17"/><rect x="546" y="277" width="3" height="2"/><rect x="551" y="276" width="1" height="31"/><rect x="550" y="277" width="3" height="7"/><rect x="555" y="274" width="1" height="35"/><rect x="554" y="277" width="3" height="7"/><rect x="555" y="278" width="1" height="5" fill="#fff"/><rect x="559" y="289" width="1" height="4"/><rect x="558" y="289" width="3" height="4"/><rect x="563" y="290" width="1" height="35"/><rect x="562" y="293" width="3" height="30"/><rect x="567" y="296" width="1" height="28"/><rect x="566" y="301" width="3" height="22"/><rect x="567" y="302" width="1" height="20" fill="#fff"/><rect x="571" y="293" width="1" height="25"/><rect x="570" y="297" width="3" height="4"/><rect x="571" y="298" width="1" height="2" fill="#fff"/><rect x="575" y="277" width="1" height="27"/><rect x="574" y="281" width="3" height="16"/><rect x="575" y="282" width="1" height="14" fill="#fff"/><rect x="579" y="278" width="1" height="21"/><rect x="578" y="281" width="3" height="7"/><rect x="583" y="283" width="1" height="5"/><rect x="582" y="283" width="3" height="4"/><rect x="583" y="284" width="1" height="2" fill="#fff"/><rect x="587" y="281" width="1" height="23"/><rect x="586" y="283" width="3" height="8"/><rect x="591" y="281" width="1" height="13"/><rect x="590" y="282" width="3" height="10"/><rect x="591" y="283" width="1" height="8" fill="#fff"/><rect x="595" y="281" width="1" height="11"/><rect x="594" y="282" width="3" height="9"/><rect x="599" y="289" width="1" height="29"/><rect x="598" y="290" width="3" height="18"/><rect x="603" y="297" width="1" height="11"/><rect x="602" y="299" width="3" height="8"/><rect x="603" y="300" width="1" height="6" fill="#fff"/><rect x="607" y="297" width="1" height="1"/><rect x="606" y="297" width="3" height="1"/><rect x="611" y="295" width="1" height="7"/><rect x="610" y="298" width="3" height="1"/><rect x="615" y="293" width="1" height="25"/><rect x="614" y="297" width="3" height="19"/><rect x="619" y="313" width="1" height="31"/><rect x="618" y="314" width="3" height="18"/><rect x="623" y="324" width="1" height="17"/><rect x="622" y="331" width="3" height="9"/><rect x="627" y="334" width="1" height="18"/><rect x="626" y="339" width="3" height="12"/><rect x="631" y="359" width="1" height="2"/><rect x="630" y="359" width="3" height="2"/><rect x="635" y="342" width="1" height="22"/><rect x="634" y="345" width="3" height="15"/><rect x="635" y="346" width="1" height="13" fill="#fff"/><rect x="639" y="311" width="1" height="39"/><rect x="638" y="312" width="3" height="33"/><rect x="639" y="313" width="1" height="31" fill="#fff"/><rect x="643" y="302" width="1" height="14"/><rect x="642" y="306" width="3" height="8"/><rect x="643" y="307" width="1" height="6" fill="#fff"/><rect x="647" y="287" width="1" height="20"/><rect x="646" y="291" width="3" height="15"/><rect x="647" y="292" width="1" height="13" fill="#fff"/><rect x="651" y="269" width="1" height="25"/><rect x="650" y="274" width="3" height="17"/><rect x="651" y="275" width="1" height="15" fill="#fff"/><rect x="655" y="267" width="1" height="2"/><rect x="654" y="267" width="3" height="2"/><rect x="659" y="259" width="1" height="13"/><rect x="658" y="268" width="3" height="4"/><rect x="663" y="258" width="1" height="16"/><rect x="662" y="270" width="3" height="2"/><rect x="667" y="269" width="1" height="8"/><rect x="666" y="271" width="3" height="1"/><rect x="671" y="265" width="1" height="17"/><rect x="670" y="268" width="3" height="5"/><rect x="671" y="269" width="1" height="3" fill="#fff"/><rect x="675" y="263" width="1" height="11"/><rect x="674" y="267" width="3" height="1"/><rect x="679" y="264" width="1" height="1"/><rect x="678" y="264" width="3" height="1"/><rect x="683" y="261" width="1" height="11"/><rect x="682" y="264" width="3" height="3"/><rect x="687" y="240" width="1" height="31"/><rect x="686" y="241" width="3" height="26"/><rect x="687" y="242" width="1" height="24" fill="#fff"/><rect x="691" y="235" width="1" height="13"/><rect x="690" y="237" width="3" height="5"/><rect x="691" y="238" width="1" height="3" fill="#fff"/><rect x="695" y="223" width="1" height="17"/><rect x="694" y="226" width="3" height="11"/><rect x="695" y="227" width="1" height="9" fill="#fff"/><rect x="699" y="216" width="1" height="16"/><rect x="698" y="226" width="3" height="5"/><rect x="703" y="228" width="1" height="2"/><rect x="702" y="228" width="3" height="2"/><rect x="707" y="223" width="1" height="7"/><rect x="706" y="226" width="3" height="3"/><rect x="707" y="227" width="1" height="1" fill="#fff"/><rect x="711" y="222" width="1" height="21"/><rect x="710" y="226" width="3" height="16"/><rect x="715" y="231" width="1" height="12"/><rect x="714" y="240" width="3" height="1"/><rect x="719" y="232" width="1" height="14"/><rect x="718" y="236" width="3" height="5"/><rect x="719" y="237" width="1" height="3" fill="#fff"/><rect x="723" y="232" width="1" height="10"/><rect x="722" y="233" width="3" height="3"/><rect x="723" y="234" width="1" height="1" fill="#fff"/><rect x="727" y="222" width="1" height="3"/><rect x="726" y="223" width="3" height="1"/><rect x="731" y="218" width="1" height="18"/><rect x="730" y="222" width="3" height="11"/><rect x="735" y="224" width="1" height="12"/><rect x="734" y="226" width="3" height="7"/><rect x="735" y="227" width="1" height="5" fill="#fff"/><rect x="739" y="213" width="1" height="14"/><rect x="738" y="214" width="3" height="12"/><rect x="739" y="215" width="1" height="10" fill="#fff"/><rect x="743" y="211" width="1" height="5"/><rect x="742" y="212" width="3" height="2"/><rect x="747" y="211" width="1" height="18"/><rect x="746" y="212" width="3" height="8"/><rect x="751" y="219" width="1" height="1"/><rect x="750" y="219" width="3" height="1"/><rect x="755" y="219" width="1" height="8"/><rect x="754" y="220" width="3" height="7"/><rect x="759" y="224" width="1" height="9"/><rect x="758" y="226" width="3" height="1"/><rect x="763" y="212" width="1" height="20"/><rect x="762" y="219" width="3" height="6"/><rect x="763" y="220" width="1" height="4" fill="#fff"/><rect x="767" y="205" width="1" height="16"/><rect x="766" y="206" width="3" height="14"/><rect x="767" y="207" width="1" height="12" fill="#fff"/><rect x="771" y="190" width="1" height="16"/><rect x="770" y="192" width="3" height="14"/><rect x="771" y="193" width="1" height="12" fill="#fff"/><rect x="775" y="192" width="1" height="1"/><rect x="774" y="192" width="3" height="1"/><rect x="779" y="186" width="1" height="10"/><rect x="778" y="188" width="3" height="5"/><rect x="779" y="189" width="1" height="3" fill="#fff"/><rect x="783" y="186" width="1" height="7"/><rect x="782" y="188" width="3" height="3"/><rect x="787" y="187" width="1" height="15"/><rect x="786" y="191" width="3" height="9"/><rect x="791" y="191" width="1" height="18"/><rect x="790" y="194" width="3" height="6"/><rect x="791" y="195" width="1" height="4" fill="#fff"/><rect x="795" y="192" width="1" height="11"/><rect x="794" y="193" width="3" height="10"/><rect x="799" y="201" width="1" height="3"/><rect x="798" y="202" width="3" height="1"/><rect x="803" y="198" width="1" height="9"/><rect x="802" y="200" width="3" height="3"/><rect x="803" y="201" width="1" height="1" fill="#fff"/><rect x="807" y="189" width="1" height="13"/><rect x="806" y="190" width="3" height="11"/><rect x="807" y="191" width="1" height="9" fill="#fff"/><rect x="811" y="189" width="1" height="11"/><rect x="810" y="190" width="3" height="5"/><rect x="815" y="189" width="1" height="21"/><rect x="814" y="195" width="3" height="10"/><rect x="819" y="199" width="1" height="7"/><rect x="818" y="203" width="3" height="1"/><rect x="823" y="202" width="1" height="1"/><rect x="822" y="202" width="3" height="1"/><rect x="827" y="195" width="1" height="10"/><rect x="826" y="197" width="3" height="6"/><rect x="827" y="198" width="1" height="4" fill="#fff"/><rect x="831" y="195" width="1" height="13"/><rect x="830" y="198" width="3" height="1"/><rect x="835" y="195" width="1" height="37"/><rect x="834" y="198" width="3" height="28"/><rect x="839" y="202" width="1" height="45"/><rect x="838" y="225" width="3" height="18"/><rect x="843" y="233" width="1" height="28"/><rect x="842" y="242" width="3" height="4"/><rect x="847" y="247" width="1" height="3"/><rect x="846" y="247" width="3" height="3"/><rect x="851" y="245" width="1" height="91"/><rect x="850" y="248" width="3" height="85"/><rect x="855" y="275" width="1" height="59"/><rect x="854" y="285" width="3" height="48"/><rect x="855" y="286" width="1" height="46" fill="#fff"/><rect x="859" y="272" width="1" height="42"/><rect x="858" y="283" width="3" height="2"/><rect x="863" y="252" width="1" height="33"/><rect x="862" y="253" width="3" height="30"/><rect x="863" y="254" width="1" height="28" fill="#fff"/><rect x="867" y="250" width="1" height="21"/><rect x="866" y="253" width="3" height="5"/><rect x="871" y="257" width="1" height="6"/><rect x="870" y="257" width="3" height="5"/><rect x="875" y="253" width="1" height="34"/><rect x="874" y="261" width="3" height="19"/><rect x="879" y="249" width="1" height="42"/><rect x="878" y="254" width="3" height="26"/><rect x="879" y="255" width="1" height="24" fill="#fff"/><rect x="883" y="252" width="1" height="61"/><rect x="882" y="254" width="3" height="52"/><rect x="887" y="293" width="1" height="32"/><rect x="886" y="299" width="3" height="7"/><rect x="887" y="300" width="1" height="5" fill="#fff"/><rect x="891" y="279" width="1" height="22"/><rect x="890" y="280" width="3" height="21"/><rect x="891" y="281" width="1" height="19" fill="#fff"/><rect x="895" y="272" width="1" height="2"/><rect x="894" y="272" width="3" height="2"/><rect x="899" y="260" width="1" height="15"/><rect x="898" y="269" width="3" height="4"/><rect x="899" y="270" width="1" height="2" fill="#fff"/><rect x="903" y="262" width="1" height="21"/><rect x="902" y="269" width="3" height="11"/><rect x="907" y="255" width="1" height="26"/><rect x="906" y="257" width="3" height="23"/><rect x="907" y="258" width="1" height="21" fill="#fff"/><rect x="911" y="251" width="1" height="11"/><rect x="910" y="257" width="3" height="3"/><rect x="915" y="253" width="1" height="54"/><rect x="914" y="261" width="3" height="34"/><rect x="919" y="311" width="1" height="5"/><rect x="918" y="313" width="3" height="1"/><rect x="923" y="276" width="1" height="39"/><rect x="922" y="283" width="3" height="31"/><rect x="923" y="284" width="1" height="29" fill="#fff"/><rect x="927" y="271" width="1" height="23"/><rect x="926" y="283" width="3" height="4"/><rect x="931" y="272" width="1" height="28"/><rect x="930" y="274" width="3" height="11"/><rect x="931" y="275" width="1" height="9" fill="#fff"/><rect x="935" y="249" width="1" height="31"/><rect x="934" y="252" width="3" height="23"/><rect x="935" y="253" width="1" height="21" fill="#fff"/><rect x="939" y="239" width="1" height="16"/><rect x="938" y="251" width="3" height="2"/><rect x="943" y="256" width="1" height="2"/><rect x="942" y="256" width="3" height="2"/><rect x="947" y="251" width="1" height="17"/><rect x="946" y="257" width="3" height="5"/><rect x="951" y="255" width="1" height="21"/><rect x="950" y="262" width="3" height="7"/><rect x="955" y="250" width="1" height="20"/><rect x="954" y="252" width="3" height="17"/><rect x="955" y="253" width="1" height="15" fill="#fff"/><rect x="959" y="221" width="1" height="31"/><rect x="958" y="226" width="3" height="26"/><rect x="959" y="227" width="1" height="24" fill="#fff"/><rect x="963" y="220" width="1" height="10"/><rect x="962" y="223" width="3" height="5"/><rect x="963" y="224" width="1" height="3" fill="#fff"/><rect x="967" y="222" width="1" height="1"/><rect x="966" y="222" width="3" height="1"/><rect x="971" y="218" width="1" height="8"/><rect x="970" y="220" width="3" height="3"/><rect x="971" y="221" width="1" height="1" fill="#fff"/><rect x="975" y="216" width="1" height="14"/><rect x="974" y="219" width="3" height="1"/><rect x="979" y="191" width="1" height="31"/><rect x="978" y="192" width="3" height="26"/><rect x="979" y="193" width="1" height="24" fill="#fff"/><rect x="983" y="191" width="1" height="14"/><rect x="982" y="192" width="3" height="5"/><rect x="987" y="192" width="1" height="8"/><rect x="986" y="197" width="3" height="2"/><rect x="991" y="204" width="1" height="2"/><rect x="990" y="204" width="3" height="2"/><rect x="995" y="202" width="1" height="5"/><rect x="994" y="202" width="3" height="4"/><rect x="995" y="203" width="1" height="2" fill="#fff"/><rect x="999" y="202" width="1" height="10"/><rect x="998" y="204" width="3" height="1"/><rect x="1003" y="200" width="1" height="18"/><rect x="1002" y="203" width="3" height="2"/><rect x="1007" y="195" width="1" height="17"/><rect x="1006" y="203" width="3" height="2"/><rect x="1011" y="200" width="1" height="19"/><rect x="1010" y="205" width="3" height="14"/><rect x="1015" y="211" width="1" height="1"/><rect x="1014" y="211" width="3" height="1"/><rect x="1019" y="206" width="1" height="19"/><rect x="1018" y="207" width="3" height="4"/><rect x="1019" y="208" width="1" height="2" fill="#fff"/><rect x="1023" y="206" width="1" height="26"/><rect x="1022" y="207" width="3" height="13"/><rect x="1027" y="211" width="1" height="19"/><rect x="1026" y="214" width="3" height="6"/><rect x="1027" y="215" width="1" height="4" fill="#fff"/><rect x="1031" y="209" width="1" height="17"/><rect x="1030" y="213" width="3" height="7"/><rect x="1035" y="212" width="1" height="20"/><rect x="1034" y="220" width="3" height="4"/><rect x="1039" y="220" width="1" height="2"/><rect x="1038" y="220" width="3" height="2"/><rect x="1043" y="213" width="1" height="11"/><rect x="1042" y="215" width="3" height="6"/><rect x="1043" y="216" width="1" height="4" fill="#fff"/><rect x="1047" y="209" width="1" height="34"/><rect x="1046" y="215" width="3" height="23"/><rect x="1051" y="236" width="1" height="44"/><rect x="1050" y="237" width="3" height="36"/><rect x="1055" y="263" width="1" height="31"/><rect x="1054" y="266" width="3" height="8"/><rect x="1055" y="267" width="1" height="6" fill="#fff"/><rect x="1059" y="240" width="1" height="32"/><rect x="1058" y="242" width="3" height="24"/><rect x="1059" y="243" width="1" height="22" fill="#fff"/><rect x="1063" y="246" width="1" height="3"/><rect x="1062" y="247" width="3" height="1"/><rect x="1067" y="236" width="1" height="15"/><rect x="1066" y="247" width="3" height="1"/><rect x="1071" y="240" width="1" height="30"/><rect x="1070" y="247" width="3" height="21"/><rect x="1075" y="249" width="1" height="28"/><rect x="1074" y="267" width="3" height="1"/><rect x="1079" y="235" width="1" height="38"/><rect x="1078" y="240" width="3" height="27"/><rect x="1079" y="241" width="1" height="25" fill="#fff"/><rect x="1083" y="213" width="1" height="31"/><rect x="1082" y="225" width="3" height="16"/><rect x="1083" y="226" width="1" height="14" fill="#fff"/><rect x="1087" y="218" width="1" height="2"/><rect x="1086" y="218" width="3" height="2"/><rect x="1091" y="218" width="1" height="17"/><rect x="1090" y="218" width="3" height="7"/><rect x="1095" y="206" width="1" height="21"/><rect x="1094" y="213" width="3" height="12"/><rect x="1095" y="214" width="1" height="10" fill="#fff"/><rect x="1099" y="211" width="1" height="8"/><rect x="1098" y="214" width="3" height="4"/><rect x="1103" y="206" width="1" height="14"/><rect x="1102" y="212" width="3" height="7"/><rect x="1103" y="213" width="1" height="5" fill="#fff"/><rect x="1107" y="210" width="1" height="20"/><rect x="1106" y="212" width="3" height="16"/><rect x="1111" y="225" width="1" height="3"/><rect x="1110" y="225" width="3" height="3"/><rect x="1111" y="226" width="1" height="1" fill="#fff"/><rect x="1115" y="222" width="1" height="9"/><rect x="1114" y="225" width="3" height="1"/><rect x="1119" y="217" width="1" height="13"/><rect x="1118" y="225" width="3" height="4"/><rect x="1123" y="221" width="1" height="17"/><rect x="1122" y="223" width="3" height="6"/><rect x="1123" y="224" width="1" height="4" fill="#fff"/><rect x="1127" y="219" width="1" height="15"/><rect x="1126" y="224" width="3" height="3"/><rect x="1131" y="213" width="1" height="18"/><rect x="1130" y="217" width="3" height="10"/><rect x="1131" y="218" width="1" height="8" fill="#fff"/><rect x="1135" y="214" width="1" height="2"/><rect x="1134" y="214" width="3" height="2"/><rect x="1139" y="204" width="1" height="12"/><rect x="1138" y="207" width="3" height="8"/><rect x="1139" y="208" width="1" height="6" fill="#fff"/><rect x="1143" y="205" width="1" height="9"/><rect x="1142" y="208" width="3" height="1"/><rect x="1147" y="197" width="1" height="19"/><rect x="1146" y="202" width="3" height="7"/><rect x="1147" y="203" width="1" height="5" fill="#fff"/><rect x="1151" y="200" width="1" height="22"/><rect x="1150" y="202" width="3" height="12"/><rect x="1155" y="193" width="1" height="21"/><rect x="1154" y="195" width="3" height="19"/><rect x="1155" y="196" width="1" height="17" fill="#fff"/><rect x="1159" y="192" width="1" height="1"/><rect x="1158" y="192" width="3" height="1"/><rect x="1163" y="182" width="1" height="11"/><rect x="1162" y="183" width="3" height="10"/><rect x="1163" y="184" width="1" height="8" fill="#fff"/><rect x="1167" y="180" width="1" height="8"/><rect x="1166" y="183" width="3" height="1"/><rect x="1171" y="180" width="1" height="10"/><rect x="1170" y="184" width="3" height="1"/><rect x="1175" y="165" width="1" height="22"/><rect x="1174" y="168" width="3" height="18"/><rect x="1175" y="169" width="1" height="16" fill="#fff"/><rect x="1179" y="166" width="1" height="12"/><rect x="1178" y="168" width="3" height="4"/><rect x="1183" y="171" width="1" height="1"/><rect x="1182" y="171" width="3" height="1"/><rect x="1187" y="169" width="1" height="13"/><rect x="1186" y="172" width="3" height="1"/><rect x="1191" y="165" width="1" height="9"/><rect x="1190" y="172" width="3" height="1"/><rect x="1195" y="163" width="1" height="15"/><rect x="1194" y="163" width="3" height="8"/><rect x="1195" y="164" width="1" height="6" fill="#fff"/><rect x="1199" y="162" width="1" height="9"/><rect x="1198" y="164" width="3" height="1"/><rect x="1203" y="150" width="1" height="14"/><rect x="1202" y="151" width="3" height="13"/><rect x="1203" y="152" width="1" height="11" fill="#fff"/><rect x="1207" y="150" width="1" height="2"/><rect x="1206" y="150" width="3" height="2"/><rect x="1211" y="144" width="1" height="9"/><rect x="1210" y="149" width="3" height="3"/><rect x="1211" y="150" width="1" height="1" fill="#fff"/><rect x="1215" y="140" width="1" height="19"/><rect x="1214" y="148" width="3" height="10"/><rect x="1219" y="156" width="1" height="14"/><rect x="1218" y="158" width="3" height="6"/><rect x="1223" y="162" width="1" height="8"/><rect x="1222" y="165" width="3" height="1"/><rect x="1227" y="156" width="1" height="10"/><rect x="1226" y="157" width="3" height="8"/><rect x="1227" y="158" width="1" height="6" fill="#fff"/><rect x="1231" y="153" width="1" height="1"/><rect x="1230" y="153" width="3" height="1"/><rect x="1235" y="145" width="1" height="8"/><rect x="1234" y="146" width="3" height="7"/><rect x="1235" y="147" width="1" height="5" fill="#fff"/><rect x="1239" y="138" width="1" height="10"/><rect x="1238" y="140" width="3" height="6"/><rect x="1239" y="141" width="1" height="4" fill="#fff"/><rect x="1243" y="137" width="1" height="7"/><rect x="1242" y="140" width="3" height="3"/><rect x="1247" y="140" width="1" height="5"/><rect x="1246" y="141" width="3" height="2"/><rect x="1251" y="140" width="1" height="6"/><rect x="1250" y="141" width="3" height="4"/><rect x="1255" y="142" width="1" height="1"/><rect x="1254" y="142" width="3" height="1"/><rect x="1259" y="135" width="1" height="29"/><rect x="1258" y="141" width="3" height="22"/><rect x="1263" y="158" width="1" height="33"/><rect x="1262" y="163" width="3" height="16"/><rect x="1267" y="165" width="1" height="21"/><rect x="1266" y="172" width="3" height="8"/><rect x="1267" y="173" width="1" height="6" fill="#fff"/><rect x="1271" y="163" width="1" height="14"/><rect x="1270" y="169" width="3" height="2"/><rect x="1275" y="146" width="1" height="23"/><rect x="1274" y="147" width="3" height="22"/><rect x="1275" y="148" width="1" height="20" fill="#fff"/><rect x="1279" y="145" width="1" height="1"/><rect x="1278" y="145" width="3" height="1"/><rect x="1283" y="146" width="1" height="10"/><rect x="1282" y="147" width="3" height="7"/><rect x="1287" y="150" width="1" height="15"/><rect x="1286" y="154" width="3" height="1"/><rect x="1291" y="150" width="1" height="10"/><rect x="1290" y="152" width="3" height="2"/><rect x="1295" y="131" width="1" height="26"/><rect x="1294" y="132" width="3" height="20"/><rect x="1295" y="133" width="1" height="18" fill="#fff"/><rect x="1299" y="129" width="1" height="17"/><rect x="1298" y="132" width="3" height="5"/><rect x="1303" y="136" width="1" height="1"/><rect x="1302" y="136" width="3" height="1"/><rect x="1307" y="126" width="1" height="13"/><rect x="1306" y="135" width="3" height="2"/><rect x="1311" y="129" width="1" height="8"/><rect x="1310" y="132" width="3" height="2"/><rect x="1315" y="129" width="1" height="4"/><rect x="1314" y="131" width="3" height="1"/><rect x="1319" y="122" width="1" height="10"/><rect x="1318" y="122" width="3" height="9"/><rect x="1319" y="123" width="1" height="7" fill="#fff"/><rect x="1323" y="115" width="1" height="9"/><rect x="1322" y="117" width="3" height="5"/><rect x="1323" y="118" width="1" height="3" fill="#fff"/><rect x="1327" y="116" width="1" height="2"/><rect x="1326" y="116" width="3" height="2"/><rect x="1331" y="111" width="1" height="7"/><rect x="1330" y="113" width="3" height="4"/><rect x="1331" y="114" width="1" height="2" fill="#fff"/><rect x="1335" y="111" width="1" height="5"/><rect x="1334" y="112" width="3" height="4"/><rect x="1339" y="115" width="1" height="1"/><rect x="1338" y="115" width="3" height="1"/><rect x="1343" y="108" width="1" height="8"/><rect x="1342" y="109" width="3" height="6"/><rect x="1343" y="110" width="1" height="4" fill="#fff"/><rect x="1347" y="102" width="1" height="9"/><rect x="1346" y="109" width="3" height="1"/><rect x="1351" y="107" width="1" height="2"/><rect x="1350" y="107" width="3" height="2"/><rect x="1355" y="106" width="1" height="16"/><rect x="1354" y="107" width="3" height="12"/><rect x="1359" y="113" width="1" height="13"/><rect x="1358" y="114" width="3" height="5"/><rect x="1359" y="115" width="1" height="3" fill="#fff"/><rect x="1363" y="111" width="1" height="2"/><rect x="1362" y="111" width="3" height="2"/><rect x="1367" y="92" width="1" height="21"/><rect x="1366" y="93" width="3" height="19"/><rect x="1367" y="94" width="1" height="17" fill="#fff"/><rect x="1371" y="92" width="1" height="28"/><rect x="1370" y="93" width="3" height="17"/><rect x="1375" y="116" width="1" height="4"/><rect x="1374" y="117" width="3" height="2"/><rect x="1379" y="104" width="1" height="22"/><rect x="1378" y="108" width="3" height="8"/><rect x="1379" y="109" width="1" height="6" fill="#fff"/><rect x="1383" y="102" width="1" height="33"/><rect x="1382" y="108" width="3" height="23"/><rect x="1387" y="96" width="1" height="47"/><rect x="1386" y="99" width="3" height="32"/><rect x="1387" y="100" width="1" height="30" fill="#fff"/><rect x="1391" y="87" width="1" height="15"/><rect x="1390" y="88" width="3" height="11"/><rect x="1391" y="89" width="1" height="9" fill="#fff"/><rect x="1395" y="83" width="1" height="17"/><rect x="1394" y="88" width="3" height="12"/><rect x="1399" y="96" width="1" height="2"/><rect x="1398" y="96" width="3" height="2"/><rect x="1403" y="90" width="1" height="8"/><rect x="1402" y="90" width="3" height="8"/><rect x="1403" y="91" width="1" height="6" fill="#fff"/><rect x="1407" y="84" width="1" height="18"/><rect x="1406" y="90" width="3" height="4"/><rect x="1411" y="79" width="1" height="17"/><rect x="1410" y="81" width="3" height="14"/><rect x="1411" y="82" width="1" height="12" fill="#fff"/><rect x="1415" y="65" width="1" height="18"/><rect x="1414" y="66" width="3" height="16"/><rect x="1415" y="67" width="1" height="14" fill="#fff"/><rect x="1419" y="62" width="1" height="7"/><rect x="1418" y="66" width="3" height="2"/><rect x="1423" y="64" width="1" height="5"/><rect x="1422" y="66" width="3" height="2"/><rect x="1427" y="64" width="1" height="7"/><rect x="1426" y="66" width="3" height="2"/><rect x="1431" y="66" width="1" height="13"/><rect x="1430" y="67" width="3" height="8"/><rect x="1435" y="65" width="1" height="16"/><rect x="1434" y="74" width="3" height="6"/><rect x="1439" y="74" width="1" height="16"/><rect x="1438" y="74" width="3" height="5"/><rect x="1439" y="75" width="1" height="3" fill="#fff"/><rect x="1443" y="69" width="1" height="29"/><rect x="1442" y="74" width="3" height="16"/><rect x="1447" y="103" width="1" height="7"/><rect x="1446" y="103" width="3" height="5"/><rect x="1451" y="102" width="1" height="21"/><rect x="1450" y="106" width="3" height="8"/><rect x="1455" y="98" width="1" height="19"/><rect x="1454" y="104" width="3" height="10"/><rect x="1455" y="105" width="1" height="8" fill="#fff"/><rect x="1459" y="92" width="1" height="15"/><rect x="1458" y="102" width="3" height="2"/><rect x="1463" y="95" width="1" height="25"/><rect x="1462" y="97" width="3" height="6"/><rect x="1463" y="98" width="1" height="4" fill="#fff"/><rect x="1467" y="92" width="1" height="50"/><rect x="1466" y="97" width="3" height="37"/><rect x="1471" y="132" width="1" height="7"/><rect x="1470" y="132" width="3" height="6"/><rect x="1471" y="133" width="1" height="4" fill="#fff"/><rect x="1475" y="112" width="1" height="22"/><rect x="1474" y="126" width="3" height="7"/><rect x="1475" y="127" width="1" height="5" fill="#fff"/><rect x="1479" y="93" width="1" height="35"/><rect x="1478" y="101" width="3" height="26"/><rect x="1479" y="102" width="1" height="24" fill="#fff"/><rect x="1483" y="67" width="1" height="38"/><rect x="1482" y="70" width="3" height="32"/><rect x="1483" y="71" width="1" height="30" fill="#fff"/><rect x="1487" y="55" width="1" height="19"/><rect x="1486" y="62" width="3" height="9"/><rect x="1487" y="63" width="1" height="7" fill="#fff"/><rect x="1491" y="62" width="1" height="23"/><rect x="1490" y="62" width="3" height="21"/><rect x="1495" y="81" width="1" height="14"/><rect x="1494" y="84" width="3" height="7"/><rect x="1499" y="70" width="1" height="21"/><rect x="1498" y="70" width="3" height="20"/><rect x="1499" y="71" width="1" height="18" fill="#fff"/><rect x="1503" y="60" width="1" height="15"/><rect x="1502" y="68" width="3" height="3"/><rect x="1503" y="69" width="1" height="1" fill="#fff"/><rect x="1507" y="50" width="1" height="22"/><rect x="1506" y="58" width="3" height="12"/><rect x="1507" y="59" width="1" height="10" fill="#fff"/><rect x="1511" y="52" width="1" height="18"/><rect x="1510" y="59" width="3" height="1"/><rect x="1515" y="52" width="1" height="17"/><rect x="1514" y="59" width="3" height="1"/><rect x="1519" y="56" width="1" height="5"/><rect x="1518" y="56" width="3" height="4"/><rect x="1519" y="57" width="1" height="2" fill="#fff"/><rect x="1523" y="54" width="1" height="11"/><rect x="1522" y="57" width="3" height="6"/><rect x="1527" y="62" width="1" height="17"/><rect x="1526" y="63" width="3" height="4"/><rect x="1531" y="60" width="1" height="10"/><rect x="1530" y="60" width="3" height="7"/><rect x="1531" y="61" width="1" height="5" fill="#fff"/><rect x="1535" y="57" width="1" height="33"/><rect x="1534" y="60" width="3" height="22"/><rect x="1539" y="75" width="1" height="18"/><rect x="1538" y="81" width="3" height="5"/><rect x="1543" y="100" width="1" height="11"/><rect x="1542" y="100" width="3" height="7"/><rect x="1547" y="105" width="1" height="53"/><rect x="1546" y="107" width="3" height="38"/><rect x="1551" y="133" width="1" height="81"/><rect x="1550" y="145" width="3" height="50"/><rect x="1555" y="178" width="1" height="53"/><rect x="1554" y="194" width="3" height="27"/><rect x="1559" y="218" width="1" height="96"/><rect x="1558" y="220" width="3" height="77"/><rect x="1563" y="289" width="1" height="70"/><rect x="1562" y="296" width="3" height="9"/><rect x="1567" y="324" width="1" height="24"/><rect x="1566" y="325" width="3" height="8"/><rect x="1571" y="230" width="1" height="108"/><rect x="1570" y="233" width="3" height="93"/><rect x="1571" y="234" width="1" height="91" fill="#fff"/><rect x="1575" y="208" width="1" height="88"/><rect x="1574" y="233" width="3" height="53"/><rect x="1579" y="207" width="1" height="80"/><rect x="1578" y="217" width="3" height="70"/><rect x="1579" y="218" width="1" height="68" fill="#fff"/><rect x="1583" y="217" width="1" height="63"/><rect x="1582" y="218" width="3" height="46"/><rect x="1587" y="257" width="1" height="70"/><rect x="1586" y="263" width="3" height="25"/><rect x="1591" y="347" width="1" height="14"/><rect x="1590" y="350" width="3" height="10"/><rect x="1595" y="352" width="1" height="87"/><rect x="1594" y="359" width="3" height="41"/></g></g><g font-family='"Liberation Serif","Noto Serif CJK SC",serif' font-weight="500" font-size="32.4" letter-spacing="0.7" stroke-width="0"><text x="1252.2" y="373" fill="#00003a" stroke="#00003a">多空转折点</text><text x="1251.2" y="372" fill="#00ff00" stroke="#00ff00">多空转折点</text></g><rect x="1345" y="380" width="95" height="9" fill="#00ff00" shape-rendering="crispEdges"/><g shape-rendering="crispEdges"><rect x="1460" y="385" width="7" height="1" fill="#f00"/><rect x="1467.5" y="383.5" width="3" height="3" fill="#fff" stroke="#f00"/><rect x="1470.5" y="373.5" width="73" height="24" fill="#fff" stroke="#f00"/></g><text x="1473.0" y="393.8" font-size="21.4" fill="#f00" textLength="70" lengthAdjust="spacingAndGlyphs">24247.6</text><g fill="#000" shape-rendering="crispEdges"><rect x="0" y="23" width="1605" height="1"/><rect x="1604" y="23" width="1" height="902"/><rect x="0" y="576" width="1605" height="1"/><rect x="0" y="578" width="1605" height="1"/><rect x="0" y="748" width="1605" height="1"/><rect x="0" y="750" width="1605" height="1"/><rect x="0" y="924" width="1605" height="1"/><rect x="1604" y="577" width="1" height="1" fill="#fff"/><rect x="1604" y="749" width="1" height="1" fill="#fff"/></g><g fill="#000"><rect x="1605" y="45" width="2" height="1" shape-rendering="crispEdges"/><text x="1610" y="49" class="k">29617.0</text><rect x="1605" y="78" width="2" height="1" shape-rendering="crispEdges"/><text x="1610" y="82" class="k">29105.5</text><rect x="1605" y="111" width="2" height="1" shape-rendering="crispEdges"/><text x="1610" y="115" class="k">28578.5</text><rect x="1605" y="144" width="2" height="1" shape-rendering="crispEdges"/><text x="1610" y="148" class="k">28051.5</text><rect x="1605" y="177" width="2" height="1" shape-rendering="crispEdges"/><text x="1610" y="181" class="k">27540.0</text><rect x="1605" y="210" width="2" height="1" shape-rendering="crispEdges"/><text x="1610" y="214" class="k">27013.0</text><rect x="1605" y="243" width="2" height="1" shape-rendering="crispEdges"/><text x="1610" y="247" class="k">26501.5</text><rect x="1605" y="276" width="2" height="1" shape-rendering="crispEdges"/><text x="1610" y="280" class="k">25974.5</text><rect x="1605" y="309" width="2" height="1" shape-rendering="crispEdges"/><text x="1610" y="313" class="k">25447.5</text><rect x="1605" y="375" width="2" height="1" shape-rendering="crispEdges"/><text x="1610" y="379" class="k">24409.0</text><rect x="1605" y="408" width="2" height="1" shape-rendering="crispEdges"/><text x="1610" y="412" class="k">23897.5</text><rect x="1605" y="441" width="2" height="1" shape-rendering="crispEdges"/><text x="1610" y="445" class="k">23370.5</text><rect x="1605" y="474" width="2" height="1" shape-rendering="crispEdges"/><text x="1610" y="478" class="k">22843.5</text><rect x="1605" y="507" width="2" height="1" shape-rendering="crispEdges"/><text x="1610" y="511" class="k">22332.0</text><rect x="1605" y="540" width="2" height="1" shape-rendering="crispEdges"/><text x="1610" y="544" class="k">21805.0</text><rect x="1605" y="573" width="2" height="1" shape-rendering="crispEdges"/><text x="1610" y="577" class="k">21293.5</text></g><rect x="1606" y="337" width="41" height="11" fill="#ff0000" shape-rendering="crispEdges"/><text x="1610" y="347" fill="#fff" class="w">24918.0</text><rect x="1606" y="361" width="41" height="11" fill="#ff0000" shape-rendering="crispEdges"/><text x="1610" y="371" fill="#fff" class="w">24545.3</text><rect x="1606" y="379" width="41" height="11" fill="#32CD32" shape-rendering="crispEdges"/><text x="1610" y="389" fill="#fff" class="w">24247.6</text><rect x="1606" y="394" width="41" height="11" fill="#000000" shape-rendering="crispEdges"/><text x="1610" y="404" fill="#fff" class="w">24030.0</text><rect x="1606" y="423" width="41" height="11" fill="#0000ff" shape-rendering="crispEdges"/><text x="1610" y="433" fill="#fff" class="w">23563.0</text><rect x="1606" y="449" width="41" height="11" fill="#0000ff" shape-rendering="crispEdges"/><text x="1610" y="459" fill="#fff" class="w">23153.4</text><g clip-path="url(#cpMacd)"><g fill="#c0c0c0" shape-rendering="crispEdges"><rect x="-1" y="630" width="1" height="22"/><rect x="3" y="630" width="1" height="16"/><rect x="7" y="630" width="1" height="10"/><rect x="11" y="630" width="1" height="1"/><rect x="15" y="624" width="1" height="7"/><rect x="19" y="627" width="1" height="4"/><rect x="23" y="630" width="1" height="1"/><rect x="27" y="630" width="1" height="3"/><rect x="31" y="630" width="1" height="9"/><rect x="35" y="630" width="1" height="16"/><rect x="39" y="630" width="1" height="19"/><rect x="43" y="630" width="1" height="21"/><rect x="47" y="630" width="1" height="21"/><rect x="51" y="630" width="1" height="21"/><rect x="55" y="630" width="1" height="24"/><rect x="59" y="630" width="1" height="27"/><rect x="63" y="630" width="1" height="32"/><rect x="67" y="630" width="1" height="36"/><rect x="71" y="630" width="1" height="41"/><rect x="75" y="630" width="1" height="48"/><rect x="79" y="630" width="1" height="58"/><rect x="83" y="630" width="1" height="65"/><rect x="87" y="630" width="1" height="76"/><rect x="91" y="630" width="1" height="84"/><rect x="95" y="630" width="1" height="79"/><rect x="99" y="630" width="1" height="73"/><rect x="103" y="630" width="1" height="67"/><rect x="107" y="630" width="1" height="61"/><rect x="111" y="630" width="1" height="54"/><rect x="115" y="630" width="1" height="47"/><rect x="119" y="630" width="1" height="45"/><rect x="123" y="630" width="1" height="45"/><rect x="127" y="630" width="1" height="39"/><rect x="131" y="630" width="1" height="33"/><rect x="135" y="630" width="1" height="27"/><rect x="139" y="630" width="1" height="20"/><rect x="143" y="630" width="1" height="14"/><rect x="147" y="630" width="1" height="9"/><rect x="151" y="630" width="1" height="4"/><rect x="155" y="630" width="1" height="1"/><rect x="159" y="628" width="1" height="3"/><rect x="163" y="625" width="1" height="6"/><rect x="167" y="621" width="1" height="10"/><rect x="171" y="617" width="1" height="14"/><rect x="175" y="611" width="1" height="20"/><rect x="179" y="607" width="1" height="24"/><rect x="183" y="604" width="1" height="27"/><rect x="187" y="604" width="1" height="27"/><rect x="191" y="603" width="1" height="28"/><rect x="195" y="603" width="1" height="28"/><rect x="199" y="601" width="1" height="30"/><rect x="203" y="601" width="1" height="30"/><rect x="207" y="603" width="1" height="28"/><rect x="211" y="603" width="1" height="28"/><rect x="215" y="600" width="1" height="31"/><rect x="219" y="598" width="1" height="33"/><rect x="223" y="597" width="1" height="34"/><rect x="227" y="597" width="1" height="34"/><rect x="231" y="595" width="1" height="36"/><rect x="235" y="593" width="1" height="38"/><rect x="239" y="592" width="1" height="39"/><rect x="243" y="594" width="1" height="37"/><rect x="247" y="595" width="1" height="36"/><rect x="251" y="597" width="1" height="34"/><rect x="255" y="599" width="1" height="32"/><rect x="259" y="598" width="1" height="33"/><rect x="263" y="596" width="1" height="35"/><rect x="267" y="596" width="1" height="35"/><rect x="271" y="593" width="1" height="38"/><rect x="275" y="590" width="1" height="41"/><rect x="279" y="589" width="1" height="42"/><rect x="283" y="588" width="1" height="43"/><rect x="287" y="587" width="1" height="44"/><rect x="291" y="589" width="1" height="42"/><rect x="295" y="588" width="1" height="43"/><rect x="299" y="588" width="1" height="43"/><rect x="303" y="588" width="1" height="43"/><rect x="307" y="589" width="1" height="42"/><rect x="311" y="591" width="1" height="40"/><rect x="315" y="594" width="1" height="37"/><rect x="319" y="595" width="1" height="36"/><rect x="323" y="595" width="1" height="36"/><rect x="327" y="599" width="1" height="32"/><rect x="331" y="602" width="1" height="29"/><rect x="335" y="607" width="1" height="24"/><rect x="339" y="612" width="1" height="19"/><rect x="343" y="616" width="1" height="15"/><rect x="347" y="619" width="1" height="12"/><rect x="351" y="620" width="1" height="11"/><rect x="355" y="622" width="1" height="9"/><rect x="359" y="622" width="1" height="9"/><rect x="363" y="622" width="1" height="9"/><rect x="367" y="621" width="1" height="10"/><rect x="371" y="620" width="1" height="11"/><rect x="375" y="619" width="1" height="12"/><rect x="379" y="619" width="1" height="12"/><rect x="383" y="620" width="1" height="11"/><rect x="387" y="619" width="1" height="12"/><rect x="391" y="622" width="1" height="9"/><rect x="395" y="625" width="1" height="6"/><rect x="399" y="626" width="1" height="5"/><rect x="403" y="627" width="1" height="4"/><rect x="407" y="628" width="1" height="3"/><rect x="411" y="627" width="1" height="4"/><rect x="415" y="626" width="1" height="5"/><rect x="419" y="624" width="1" height="7"/><rect x="423" y="620" width="1" height="11"/><rect x="427" y="618" width="1" height="13"/><rect x="431" y="616" width="1" height="15"/><rect x="435" y="614" width="1" height="17"/><rect x="439" y="612" width="1" height="19"/><rect x="443" y="611" width="1" height="20"/><rect x="447" y="610" width="1" height="21"/><rect x="451" y="612" width="1" height="19"/><rect x="455" y="613" width="1" height="18"/><rect x="459" y="614" width="1" height="17"/><rect x="463" y="613" width="1" height="18"/><rect x="467" y="613" width="1" height="18"/><rect x="471" y="613" width="1" height="18"/><rect x="475" y="613" width="1" height="18"/><rect x="479" y="613" width="1" height="18"/><rect x="483" y="612" width="1" height="19"/><rect x="487" y="611" width="1" height="20"/><rect x="491" y="611" width="1" height="20"/><rect x="495" y="610" width="1" height="21"/><rect x="499" y="611" width="1" height="20"/><rect x="503" y="613" width="1" height="18"/><rect x="507" y="614" width="1" height="17"/><rect x="511" y="614" width="1" height="17"/><rect x="515" y="615" width="1" height="16"/><rect x="519" y="615" width="1" height="16"/><rect x="523" y="617" width="1" height="14"/><rect x="527" y="620" width="1" height="11"/><rect x="531" y="620" width="1" height="11"/><rect x="535" y="625" width="1" height="6"/><rect x="539" y="626" width="1" height="5"/><rect x="543" y="630" width="1" height="1"/><rect x="547" y="630" width="1" height="3"/><rect x="551" y="630" width="1" height="6"/><rect x="555" y="630" width="1" height="8"/><rect x="559" y="630" width="1" height="11"/><rect x="563" y="630" width="1" height="17"/><rect x="567" y="630" width="1" height="19"/><rect x="571" y="630" width="1" height="20"/><rect x="575" y="630" width="1" height="18"/><rect x="579" y="630" width="1" height="17"/><rect x="583" y="630" width="1" height="16"/><rect x="587" y="630" width="1" height="16"/><rect x="591" y="630" width="1" height="14"/><rect x="595" y="630" width="1" height="14"/><rect x="599" y="630" width="1" height="16"/><rect x="603" y="630" width="1" height="16"/><rect x="607" y="630" width="1" height="16"/><rect x="611" y="630" width="1" height="16"/><rect x="615" y="630" width="1" height="18"/><rect x="619" y="630" width="1" height="21"/><rect x="623" y="630" width="1" height="25"/><rect x="627" y="630" width="1" height="29"/><rect x="631" y="630" width="1" height="33"/><rect x="635" y="630" width="1" height="34"/><rect x="639" y="630" width="1" height="29"/><rect x="643" y="630" width="1" height="25"/><rect x="647" y="630" width="1" height="19"/><rect x="651" y="630" width="1" height="12"/><rect x="655" y="630" width="1" height="6"/><rect x="659" y="630" width="1" height="1"/><rect x="663" y="627" width="1" height="4"/><rect x="667" y="624" width="1" height="7"/><rect x="671" y="622" width="1" height="9"/><rect x="675" y="620" width="1" height="11"/><rect x="679" y="618" width="1" height="13"/><rect x="683" y="617" width="1" height="14"/><rect x="687" y="613" width="1" height="18"/><rect x="691" y="609" width="1" height="22"/><rect x="695" y="605" width="1" height="26"/><rect x="699" y="603" width="1" height="28"/><rect x="703" y="601" width="1" height="30"/><rect x="707" y="600" width="1" height="31"/><rect x="711" y="601" width="1" height="30"/><rect x="715" y="602" width="1" height="29"/><rect x="719" y="603" width="1" height="28"/><rect x="723" y="603" width="1" height="28"/><rect x="727" y="603" width="1" height="28"/><rect x="731" y="604" width="1" height="27"/><rect x="735" y="604" width="1" height="27"/><rect x="739" y="603" width="1" height="28"/><rect x="743" y="602" width="1" height="29"/><rect x="747" y="603" width="1" height="28"/><rect x="751" y="604" width="1" height="27"/><rect x="755" y="606" width="1" height="25"/><rect x="759" y="607" width="1" height="24"/><rect x="763" y="608" width="1" height="23"/><rect x="767" y="607" width="1" height="24"/><rect x="771" y="604" width="1" height="27"/><rect x="775" y="603" width="1" height="28"/><rect x="779" y="601" width="1" height="30"/><rect x="783" y="601" width="1" height="30"/><rect x="787" y="602" width="1" height="29"/><rect x="791" y="603" width="1" height="28"/><rect x="795" y="604" width="1" height="27"/><rect x="799" y="606" width="1" height="25"/><rect x="803" y="607" width="1" height="24"/><rect x="807" y="607" width="1" height="24"/><rect x="811" y="608" width="1" height="23"/><rect x="815" y="610" width="1" height="21"/><rect x="819" y="612" width="1" height="19"/><rect x="823" y="614" width="1" height="17"/><rect x="827" y="614" width="1" height="17"/><rect x="831" y="615" width="1" height="16"/><rect x="835" y="620" width="1" height="11"/><rect x="839" y="626" width="1" height="5"/><rect x="843" y="630" width="1" height="1"/><rect x="847" y="630" width="1" height="5"/><rect x="851" y="630" width="1" height="20"/><rect x="855" y="630" width="1" height="25"/><rect x="859" y="630" width="1" height="28"/><rect x="863" y="630" width="1" height="26"/><rect x="867" y="630" width="1" height="25"/><rect x="871" y="630" width="1" height="24"/><rect x="875" y="630" width="1" height="26"/><rect x="879" y="630" width="1" height="24"/><rect x="883" y="630" width="1" height="28"/><rect x="887" y="630" width="1" height="31"/><rect x="891" y="630" width="1" height="30"/><rect x="895" y="630" width="1" height="28"/><rect x="899" y="630" width="1" height="26"/><rect x="903" y="630" width="1" height="25"/><rect x="907" y="630" width="1" height="21"/><rect x="911" y="630" width="1" height="18"/><rect x="915" y="630" width="1" height="20"/><rect x="919" y="630" width="1" height="24"/><rect x="923" y="630" width="1" height="23"/><rect x="927" y="630" width="1" height="22"/><rect x="931" y="630" width="1" height="20"/><rect x="935" y="630" width="1" height="15"/><rect x="939" y="630" width="1" height="10"/><rect x="943" y="630" width="1" height="8"/><rect x="947" y="630" width="1" height="6"/><rect x="951" y="630" width="1" height="6"/><rect x="955" y="630" width="1" height="3"/><rect x="959" y="627" width="1" height="4"/><rect x="963" y="623" width="1" height="8"/><rect x="967" y="619" width="1" height="12"/><rect x="971" y="616" width="1" height="15"/><rect x="975" y="613" width="1" height="18"/><rect x="979" y="608" width="1" height="23"/><rect x="983" y="605" width="1" height="26"/><rect x="987" y="603" width="1" height="28"/><rect x="991" y="602" width="1" height="29"/><rect x="995" y="602" width="1" height="29"/><rect x="999" y="602" width="1" height="29"/><rect x="1003" y="602" width="1" height="29"/><rect x="1007" y="603" width="1" height="28"/><rect x="1011" y="606" width="1" height="25"/><rect x="1015" y="608" width="1" height="23"/><rect x="1019" y="608" width="1" height="23"/><rect x="1023" y="611" width="1" height="20"/><rect x="1027" y="613" width="1" height="18"/><rect x="1031" y="615" width="1" height="16"/><rect x="1035" y="617" width="1" height="14"/><rect x="1039" y="619" width="1" height="12"/><rect x="1043" y="620" width="1" height="11"/><rect x="1047" y="623" width="1" height="8"/><rect x="1051" y="630" width="1" height="1"/><rect x="1055" y="630" width="1" height="6"/><rect x="1059" y="630" width="1" height="7"/><rect x="1063" y="630" width="1" height="8"/><rect x="1067" y="630" width="1" height="9"/><rect x="1071" y="630" width="1" height="12"/><rect x="1075" y="630" width="1" height="14"/><rect x="1079" y="630" width="1" height="12"/><rect x="1083" y="630" width="1" height="9"/><rect x="1087" y="630" width="1" height="5"/><rect x="1091" y="630" width="1" height="2"/><rect x="1095" y="629" width="1" height="2"/><rect x="1099" y="627" width="1" height="4"/><rect x="1103" y="625" width="1" height="6"/><rect x="1107" y="625" width="1" height="6"/><rect x="1111" y="625" width="1" height="6"/><rect x="1115" y="625" width="1" height="6"/><rect x="1119" y="626" width="1" height="5"/><rect x="1123" y="626" width="1" height="5"/><rect x="1127" y="626" width="1" height="5"/><rect x="1131" y="625" width="1" height="6"/><rect x="1135" y="624" width="1" height="7"/><rect x="1139" y="622" width="1" height="9"/><rect x="1143" y="621" width="1" height="10"/><rect x="1147" y="619" width="1" height="12"/><rect x="1151" y="620" width="1" height="11"/><rect x="1155" y="618" width="1" height="13"/><rect x="1159" y="616" width="1" height="15"/><rect x="1163" y="613" width="1" height="18"/><rect x="1167" y="612" width="1" height="19"/><rect x="1171" y="611" width="1" height="20"/><rect x="1175" y="608" width="1" height="23"/><rect x="1179" y="606" width="1" height="25"/><rect x="1183" y="605" width="1" height="26"/><rect x="1187" y="605" width="1" height="26"/><rect x="1191" y="605" width="1" height="26"/><rect x="1195" y="604" width="1" height="27"/><rect x="1199" y="604" width="1" height="27"/><rect x="1203" y="602" width="1" height="29"/><rect x="1207" y="601" width="1" height="30"/><rect x="1211" y="600" width="1" height="31"/><rect x="1215" y="601" width="1" height="30"/><rect x="1219" y="603" width="1" height="28"/><rect x="1223" y="605" width="1" height="26"/><rect x="1227" y="606" width="1" height="25"/><rect x="1231" y="606" width="1" height="25"/><rect x="1235" y="606" width="1" height="25"/><rect x="1239" y="605" width="1" height="26"/><rect x="1243" y="605" width="1" height="26"/><rect x="1247" y="605" width="1" height="26"/><rect x="1251" y="606" width="1" height="25"/><rect x="1255" y="606" width="1" height="25"/><rect x="1259" y="610" width="1" height="21"/><rect x="1263" y="615" width="1" height="16"/><rect x="1267" y="618" width="1" height="13"/><rect x="1271" y="621" width="1" height="10"/><rect x="1275" y="619" width="1" height="12"/><rect x="1279" y="619" width="1" height="12"/><rect x="1283" y="619" width="1" height="12"/><rect x="1287" y="620" width="1" height="11"/><rect x="1291" y="620" width="1" height="11"/><rect x="1295" y="618" width="1" height="13"/><rect x="1299" y="617" width="1" height="14"/><rect x="1303" y="616" width="1" height="15"/><rect x="1307" y="615" width="1" height="16"/><rect x="1311" y="614" width="1" height="17"/><rect x="1315" y="614" width="1" height="17"/><rect x="1319" y="613" width="1" height="18"/><rect x="1323" y="611" width="1" height="20"/><rect x="1327" y="610" width="1" height="21"/><rect x="1331" y="609" width="1" height="22"/><rect x="1335" y="609" width="1" height="22"/><rect x="1339" y="609" width="1" height="22"/><rect x="1343" y="608" width="1" height="23"/><rect x="1347" y="608" width="1" height="23"/><rect x="1351" y="607" width="1" height="24"/><rect x="1355" y="609" width="1" height="22"/><rect x="1359" y="610" width="1" height="21"/><rect x="1363" y="611" width="1" height="20"/><rect x="1367" y="609" width="1" height="22"/><rect x="1371" y="610" width="1" height="21"/><rect x="1375" y="612" width="1" height="19"/><rect x="1379" y="613" width="1" height="18"/><rect x="1383" y="616" width="1" height="15"/><rect x="1387" y="615" width="1" height="16"/><rect x="1391" y="613" width="1" height="18"/><rect x="1395" y="613" width="1" height="18"/><rect x="1399" y="613" width="1" height="18"/><rect x="1403" y="612" width="1" height="19"/><rect x="1407" y="612" width="1" height="19"/><rect x="1411" y="610" width="1" height="21"/><rect x="1415" y="607" width="1" height="24"/><rect x="1419" y="606" width="1" height="25"/><rect x="1423" y="604" width="1" height="27"/><rect x="1427" y="604" width="1" height="27"/><rect x="1431" y="604" width="1" height="27"/><rect x="1435" y="606" width="1" height="25"/><rect x="1439" y="607" width="1" height="24"/><rect x="1443" y="610" width="1" height="21"/><rect x="1447" y="615" width="1" height="16"/><rect x="1451" y="620" width="1" height="11"/><rect x="1455" y="622" width="1" height="9"/><rect x="1459" y="624" width="1" height="7"/><rect x="1463" y="625" width="1" height="6"/><rect x="1467" y="630" width="1" height="1"/><rect x="1471" y="630" width="1" height="5"/><rect x="1475" y="630" width="1" height="7"/><rect x="1479" y="630" width="1" height="6"/><rect x="1483" y="630" width="1" height="1"/><rect x="1487" y="625" width="1" height="6"/><rect x="1491" y="624" width="1" height="7"/><rect x="1495" y="624" width="1" height="7"/><rect x="1499" y="621" width="1" height="10"/><rect x="1503" y="619" width="1" height="12"/><rect x="1507" y="616" width="1" height="15"/><rect x="1511" y="614" width="1" height="17"/><rect x="1515" y="612" width="1" height="19"/><rect x="1519" y="611" width="1" height="20"/><rect x="1523" y="611" width="1" height="20"/><rect x="1527" y="612" width="1" height="19"/><rect x="1531" y="612" width="1" height="19"/><rect x="1535" y="615" width="1" height="16"/><rect x="1539" y="618" width="1" height="13"/><rect x="1543" y="624" width="1" height="7"/><rect x="1547" y="630" width="1" height="3"/><rect x="1551" y="630" width="1" height="17"/><rect x="1555" y="630" width="1" height="32"/><rect x="1559" y="630" width="1" height="53"/><rect x="1563" y="630" width="1" height="70"/><rect x="1567" y="630" width="1" height="86"/><rect x="1571" y="630" width="1" height="85"/><rect x="1575" y="630" width="1" height="89"/><rect x="1579" y="630" width="1" height="83"/><rect x="1583" y="630" width="1" height="83"/><rect x="1587" y="630" width="1" height="86"/><rect x="1591" y="630" width="1" height="96"/><rect x="1595" y="630" width="1" height="109"/></g><polyline shape-rendering="crispEdges" fill="none" stroke="#ff0000" stroke-width="1" stroke-dasharray="3,3" points="-0.5,654.6 3.5,655.5 7.5,654.8 11.5,652.5 15.5,649.0 19.5,645.3 23.5,641.8 27.5,638.6 31.5,636.3 35.5,635.6 39.5,635.9 43.5,637.2 47.5,639.4 51.5,642.4 55.5,645.5 59.5,648.4 63.5,651.6 67.5,654.6 71.5,657.4 75.5,660.6 79.5,664.8 83.5,669.7 87.5,675.9 91.5,682.5 95.5,688.3 99.5,692.9 103.5,696.3 107.5,698.5 111.5,699.1 115.5,697.8 119.5,695.6 123.5,692.2 127.5,687.2 131.5,682.1 135.5,677.0 139.5,671.8 143.5,666.7 147.5,661.6 151.5,656.8 155.5,651.8 159.5,646.5 163.5,641.6 167.5,637.0 171.5,632.5 175.5,628.2 179.5,624.0 183.5,620.1 187.5,616.8 191.5,613.8 195.5,611.1 199.5,608.5 203.5,606.2 207.5,604.6 211.5,603.7 215.5,603.0 219.5,602.4 223.5,601.6 227.5,600.9 231.5,600.1 235.5,599.1 239.5,598.1 243.5,597.2 247.5,596.3 251.5,595.9 255.5,596.0 259.5,596.1 263.5,596.0 267.5,596.1 271.5,596.0 275.5,595.8 279.5,595.3 283.5,594.5 287.5,593.4 291.5,592.2 295.5,591.2 299.5,590.2 303.5,589.3 307.5,589.0 311.5,589.1 315.5,589.6 319.5,590.4 323.5,591.2 327.5,592.4 331.5,594.0 335.5,596.1 339.5,598.7 343.5,601.6 347.5,604.7 351.5,607.7 355.5,610.7 359.5,613.6 363.5,616.2 367.5,618.2 371.5,619.7 375.5,620.5 379.5,620.9 383.5,621.0 387.5,620.9 391.5,621.0 395.5,621.3 399.5,621.8 403.5,622.5 407.5,623.4 411.5,624.3 415.5,625.1 419.5,625.5 423.5,625.6 427.5,625.2 431.5,624.3 435.5,622.9 439.5,621.2 443.5,619.2 447.5,617.3 451.5,615.8 455.5,614.6 459.5,614.0 463.5,613.4 467.5,613.0 471.5,612.9 475.5,613.1 479.5,613.3 483.5,613.4 487.5,613.3 491.5,613.1 495.5,612.7 499.5,612.4 503.5,612.4 507.5,612.4 511.5,612.6 515.5,612.8 519.5,613.2 523.5,613.8 527.5,614.8 531.5,615.8 535.5,617.4 539.5,618.8 543.5,620.7 547.5,622.7 551.5,625.1 555.5,627.6 559.5,630.3 563.5,633.3 567.5,636.6 571.5,639.4 575.5,641.9 579.5,643.8 583.5,645.2 587.5,646.3 591.5,647.0 595.5,647.4 599.5,647.3 603.5,646.9 607.5,646.5 611.5,646.3 615.5,646.3 619.5,646.8 623.5,647.8 627.5,649.4 631.5,651.5 635.5,653.5 639.5,655.0 643.5,656.0 647.5,656.3 651.5,655.7 655.5,654.0 659.5,651.4 663.5,647.9 667.5,643.6 671.5,638.9 675.5,634.5 679.5,630.4 683.5,626.8 687.5,623.5 691.5,620.6 695.5,617.7 699.5,615.0 703.5,612.4 707.5,609.9 711.5,607.9 715.5,606.1 719.5,604.6 723.5,603.6 727.5,602.9 731.5,602.7 735.5,602.9 739.5,603.1 743.5,603.3 747.5,603.5 751.5,603.6 755.5,603.9 759.5,604.3 763.5,604.9 767.5,605.2 771.5,605.3 775.5,605.3 779.5,605.2 783.5,605.0 787.5,604.8 791.5,604.5 795.5,604.2 799.5,604.0 803.5,604.1 807.5,604.4 811.5,605.0 815.5,606.0 819.5,607.2 823.5,608.5 827.5,609.8 831.5,611.0 835.5,612.5 839.5,614.5 843.5,617.1 847.5,620.1 851.5,624.5 855.5,629.3 859.5,634.2 863.5,638.8 867.5,643.3 871.5,647.1 875.5,650.5 879.5,653.1 883.5,655.6 887.5,656.9 891.5,657.5 895.5,657.5 899.5,657.5 903.5,657.4 907.5,657.1 911.5,656.2 915.5,655.8 919.5,655.3 923.5,654.4 927.5,653.5 931.5,652.6 935.5,651.4 939.5,649.8 943.5,648.3 947.5,647.0 951.5,645.3 955.5,643.0 959.5,640.1 963.5,636.8 967.5,633.4 971.5,630.2 975.5,627.2 979.5,623.9 983.5,620.4 987.5,616.8 991.5,613.3 995.5,610.5 999.5,608.2 1003.5,606.4 1007.5,605.0 1011.5,604.2 1015.5,604.2 1019.5,604.6 1023.5,605.5 1027.5,606.7 1031.5,608.1 1035.5,609.8 1039.5,611.6 1043.5,613.4 1047.5,615.3 1051.5,617.9 1055.5,620.9 1059.5,623.7 1063.5,626.5 1067.5,629.2 1071.5,631.9 1075.5,634.8 1079.5,637.3 1083.5,639.0 1087.5,639.5 1091.5,639.1 1095.5,638.2 1099.5,637.1 1103.5,635.5 1107.5,633.7 1111.5,631.6 1115.5,629.7 1119.5,628.2 1123.5,627.2 1127.5,626.5 1131.5,626.0 1135.5,625.7 1139.5,625.4 1143.5,624.9 1147.5,624.3 1151.5,623.7 1155.5,622.8 1159.5,621.7 1163.5,620.3 1167.5,618.8 1171.5,617.3 1175.5,615.7 1179.5,614.1 1183.5,612.5 1187.5,610.9 1191.5,609.5 1195.5,608.2 1199.5,607.1 1203.5,606.1 1207.5,605.1 1211.5,604.2 1215.5,603.7 1219.5,603.5 1223.5,603.5 1227.5,603.6 1231.5,603.8 1235.5,604.0 1239.5,604.3 1243.5,604.7 1247.5,605.2 1251.5,605.7 1255.5,606.1 1259.5,606.6 1263.5,607.6 1267.5,608.9 1271.5,610.6 1275.5,612.2 1279.5,613.7 1283.5,615.3 1287.5,616.9 1291.5,618.4 1295.5,619.2 1299.5,619.4 1303.5,619.1 1307.5,618.5 1311.5,618.0 1315.5,617.4 1319.5,616.7 1323.5,615.7 1327.5,614.6 1331.5,613.7 1335.5,612.8 1339.5,612.0 1343.5,611.1 1347.5,610.4 1351.5,609.7 1355.5,609.3 1359.5,609.2 1363.5,609.3 1367.5,609.3 1371.5,609.5 1375.5,609.8 1379.5,610.4 1383.5,611.3 1387.5,612.2 1391.5,612.6 1395.5,612.9 1399.5,613.1 1403.5,613.4 1407.5,613.6 1411.5,613.5 1415.5,612.9 1419.5,611.7 1423.5,610.5 1427.5,609.4 1431.5,608.5 1435.5,607.7 1439.5,607.1 1443.5,606.9 1447.5,607.4 1451.5,608.7 1455.5,610.6 1459.5,612.8 1463.5,615.2 1467.5,618.1 1471.5,621.3 1475.5,624.7 1479.5,627.6 1483.5,629.4 1487.5,630.0 1491.5,630.1 1495.5,630.1 1499.5,629.6 1503.5,628.3 1507.5,626.2 1511.5,623.6 1515.5,621.0 1519.5,618.9 1523.5,617.4 1527.5,616.1 1531.5,614.8 1535.5,614.1 1539.5,614.0 1543.5,614.9 1547.5,617.1 1551.5,620.9 1555.5,626.5 1559.5,634.5 1563.5,644.2 1567.5,655.8 1571.5,666.9 1575.5,678.1 1579.5,688.0 1583.5,696.9 1587.5,704.5 1591.5,711.7 1595.5,718.0"/></g><text x="0" y="591" class="k">MACD(12,26,9) -1016.70 -816.06</text><g fill="#000"><rect x="1605" y="580" width="1" height="1"/><rect x="1605" y="630" width="1" height="1"/><rect x="1605" y="747" width="1" height="1"/></g><text x="1608" y="589" class="k">467.53</text><text x="1608" y="634" class="k">0.00</text><text x="1608" y="745" class="k">-1087.38</text><g shape-rendering="crispEdges" stroke="#c0c0c0" stroke-dasharray="3,3" stroke-width="1"><line x1="0" y1="786.5" x2="1604" y2="786.5"/><line x1="0" y1="837.5" x2="1604" y2="837.5"/><line x1="0" y1="898.5" x2="1604" y2="898.5"/></g><polyline shape-rendering="crispEdges" clip-path="url(#cpRsi)" fill="none" stroke="#1E90FF" stroke-width="1" points="-0.5,830.8 3.5,829.8 7.5,824.9 11.5,815.0 15.5,815.4 19.5,844.6 23.5,848.2 27.5,845.2 31.5,856.7 35.5,860.7 39.5,853.4 43.5,853.1 47.5,847.6 51.5,849.0 55.5,858.7 59.5,858.3 63.5,865.6 67.5,867.7 71.5,872.5 75.5,878.6 79.5,885.7 83.5,883.6 87.5,891.1 91.5,890.3 95.5,857.4 99.5,851.8 103.5,851.2 107.5,849.5 111.5,845.3 115.5,843.8 119.5,852.3 123.5,858.0 127.5,840.2 131.5,838.1 135.5,836.9 139.5,831.0 143.5,831.4 147.5,827.9 151.5,826.9 155.5,830.4 159.5,829.8 163.5,825.6 167.5,822.9 171.5,818.6 175.5,810.1 179.5,811.4 183.5,812.9 187.5,822.5 191.5,819.3 195.5,820.0 199.5,813.9 203.5,814.9 207.5,826.9 211.5,821.2 215.5,811.0 219.5,811.0 223.5,810.7 227.5,811.4 231.5,806.2 235.5,802.0 239.5,803.2 243.5,818.0 247.5,817.3 251.5,817.3 255.5,820.4 259.5,807.0 263.5,804.8 267.5,809.8 271.5,797.9 275.5,797.9 279.5,797.9 283.5,797.6 287.5,796.1 291.5,805.8 295.5,800.1 299.5,797.7 303.5,799.8 307.5,803.8 311.5,806.0 315.5,813.8 319.5,808.7 323.5,804.1 327.5,827.7 331.5,828.9 335.5,837.3 339.5,844.7 343.5,844.3 347.5,846.7 351.5,830.4 355.5,840.7 359.5,830.0 363.5,831.0 367.5,824.6 371.5,826.6 375.5,821.6 379.5,826.5 383.5,834.6 387.5,823.3 391.5,844.4 395.5,843.3 399.5,843.0 403.5,840.1 407.5,840.4 411.5,831.7 415.5,826.0 419.5,821.4 423.5,812.1 427.5,820.7 431.5,816.0 435.5,812.1 439.5,811.3 443.5,812.1 447.5,816.9 451.5,828.8 455.5,826.8 459.5,827.4 463.5,816.0 467.5,816.5 471.5,818.7 475.5,816.7 479.5,815.2 483.5,809.5 487.5,807.8 491.5,815.6 495.5,808.6 499.5,817.0 503.5,829.1 507.5,823.5 511.5,824.2 515.5,821.4 519.5,815.9 523.5,837.2 527.5,842.7 531.5,829.4 535.5,853.3 539.5,840.5 543.5,853.6 547.5,851.4 551.5,855.6 555.5,849.7 559.5,858.4 563.5,870.8 567.5,855.7 571.5,852.8 575.5,843.0 579.5,846.6 583.5,843.6 587.5,847.8 591.5,842.0 595.5,847.2 599.5,855.4 603.5,849.4 607.5,849.0 611.5,848.3 615.5,858.2 619.5,865.4 623.5,868.9 627.5,873.0 631.5,876.6 635.5,863.3 639.5,841.9 643.5,838.4 647.5,831.2 651.5,823.3 655.5,821.0 659.5,822.8 663.5,823.1 667.5,822.9 671.5,821.0 675.5,820.5 679.5,819.1 683.5,821.2 687.5,807.2 691.5,805.3 695.5,800.6 699.5,806.1 703.5,805.3 707.5,803.7 711.5,819.3 715.5,818.7 719.5,816.0 723.5,813.9 727.5,808.1 731.5,818.7 735.5,814.4 739.5,807.8 743.5,806.7 747.5,815.2 751.5,815.7 755.5,823.0 759.5,822.3 763.5,817.3 767.5,808.2 771.5,800.6 775.5,802.0 779.5,799.7 783.5,803.5 787.5,815.1 791.5,811.1 795.5,821.4 799.5,821.0 803.5,818.8 807.5,811.3 811.5,818.5 815.5,829.4 819.5,827.7 823.5,827.4 827.5,822.4 831.5,823.7 835.5,851.8 839.5,863.4 843.5,864.9 847.5,867.1 851.5,893.9 855.5,861.7 859.5,860.5 863.5,845.5 867.5,847.6 871.5,848.9 875.5,855.8 879.5,842.8 883.5,860.2 887.5,856.9 891.5,848.3 895.5,845.7 899.5,843.9 903.5,848.0 907.5,837.9 911.5,839.2 915.5,852.4 919.5,857.9 923.5,844.8 927.5,846.1 931.5,840.8 935.5,832.3 939.5,832.5 943.5,835.1 947.5,836.8 951.5,840.2 955.5,832.0 959.5,822.1 963.5,820.9 967.5,820.9 971.5,819.6 975.5,819.3 979.5,808.7 983.5,812.6 987.5,813.7 991.5,818.8 995.5,817.2 999.5,818.6 1003.5,817.9 1007.5,819.8 1011.5,831.0 1015.5,826.4 1019.5,823.6 1023.5,833.8 1027.5,830.1 1031.5,834.5 1035.5,838.0 1039.5,836.6 1043.5,830.9 1047.5,848.1 1051.5,866.3 1055.5,860.6 1059.5,844.2 1063.5,847.1 1067.5,847.1 1071.5,857.7 1075.5,856.5 1079.5,839.1 1083.5,831.2 1087.5,827.5 1091.5,831.6 1095.5,825.7 1099.5,829.0 1103.5,825.9 1107.5,836.3 1111.5,834.7 1115.5,834.3 1119.5,836.9 1123.5,833.2 1127.5,836.2 1131.5,829.3 1135.5,828.1 1139.5,822.0 1143.5,823.7 1147.5,819.7 1151.5,830.5 1155.5,818.4 1159.5,817.3 1163.5,811.2 1167.5,812.2 1171.5,813.2 1175.5,804.2 1179.5,807.8 1183.5,808.9 1187.5,808.6 1191.5,808.6 1195.5,803.2 1199.5,803.7 1203.5,796.2 1207.5,798.1 1211.5,796.1 1215.5,810.5 1219.5,818.6 1223.5,819.3 1227.5,812.7 1231.5,809.6 1235.5,804.6 1239.5,801.2 1243.5,805.9 1247.5,804.0 1251.5,811.1 1255.5,809.6 1259.5,836.4 1263.5,850.8 1267.5,843.3 1271.5,840.2 1275.5,822.6 1279.5,821.9 1283.5,830.0 1287.5,829.5 1291.5,827.6 1295.5,813.2 1299.5,819.0 1303.5,819.0 1307.5,817.4 1311.5,814.8 1315.5,814.4 1319.5,807.8 1323.5,804.3 1327.5,805.7 1331.5,801.8 1335.5,807.4 1339.5,807.4 1343.5,802.3 1347.5,802.3 1351.5,800.7 1355.5,821.7 1359.5,816.1 1363.5,815.0 1367.5,800.1 1371.5,822.9 1375.5,829.8 1379.5,823.1 1383.5,843.6 1387.5,821.7 1391.5,816.4 1395.5,825.4 1399.5,824.4 1403.5,820.2 1407.5,823.2 1411.5,815.9 1415.5,808.7 1419.5,810.3 1423.5,809.2 1427.5,811.5 1431.5,818.6 1435.5,823.7 1439.5,819.8 1443.5,833.8 1447.5,847.0 1451.5,850.7 1455.5,843.2 1459.5,841.4 1463.5,837.0 1467.5,859.7 1471.5,858.7 1475.5,853.7 1479.5,836.0 1483.5,820.4 1487.5,817.0 1491.5,829.9 1495.5,834.6 1499.5,824.8 1503.5,824.0 1507.5,819.6 1511.5,820.1 1515.5,820.1 1519.5,818.8 1523.5,823.7 1527.5,827.2 1531.5,823.2 1535.5,839.0 1539.5,841.7 1543.5,854.1 1547.5,869.6 1551.5,882.6 1555.5,887.5 1559.5,897.5 1563.5,898.2 1567.5,900.9 1571.5,859.0 1575.5,868.1 1579.5,849.3 1583.5,857.1 1587.5,860.8 1591.5,870.3 1595.5,874.8"/><text x="0" y="763" class="k">RSI(14) 28.4884</text><g fill="#000" shape-rendering="crispEdges"><rect x="1605" y="752" width="1" height="1"/><rect x="1605" y="786" width="1" height="1"/><rect x="1605" y="837" width="1" height="1"/><rect x="1605" y="898" width="1" height="1"/><rect x="1605" y="923" width="1" height="1"/></g><text x="1608" y="761" class="k">100</text><text x="1608" y="790" class="k">80</text><text x="1608" y="841" class="k">50</text><text x="1608" y="902" class="k">15</text><text x="1608" y="921" class="k">0</text><g fill="#000"><text x="-5" y="937" class="k">27 Nov 2018</text><rect x="59" y="925" width="1" height="3" shape-rendering="crispEdges"/><text x="58" y="937" class="k">16 Dec 2018</text><rect x="123" y="925" width="1" height="3" shape-rendering="crispEdges"/><text x="122" y="937" class="k">3 Jan 2019</text><rect x="187" y="925" width="1" height="3" shape-rendering="crispEdges"/><text x="186" y="937" class="k">22 Jan 2019</text><rect x="251" y="925" width="1" height="3" shape-rendering="crispEdges"/><text x="250" y="937" class="k">10 Feb 2019</text><rect x="315" y="925" width="1" height="3" shape-rendering="crispEdges"/><text x="314" y="937" class="k">28 Feb 2019</text><rect x="379" y="925" width="1" height="3" shape-rendering="crispEdges"/><text x="378" y="937" class="k">19 Mar 2019</text><rect x="443" y="925" width="1" height="3" shape-rendering="crispEdges"/><text x="442" y="937" class="k">7 Apr 2019</text><rect x="507" y="925" width="1" height="3" shape-rendering="crispEdges"/><text x="506" y="937" class="k">26 Apr 2019</text><rect x="571" y="925" width="1" height="3" shape-rendering="crispEdges"/><text x="570" y="937" class="k">15 May 2019</text><rect x="635" y="925" width="1" height="3" shape-rendering="crispEdges"/><text x="634" y="937" class="k">3 Jun 2019</text><rect x="699" y="925" width="1" height="3" shape-rendering="crispEdges"/><text x="698" y="937" class="k">21 Jun 2019</text><rect x="763" y="925" width="1" height="3" shape-rendering="crispEdges"/><text x="762" y="937" class="k">10 Jul 2019</text><rect x="827" y="925" width="1" height="3" shape-rendering="crispEdges"/><text x="826" y="937" class="k">29 Jul 2019</text><rect x="891" y="925" width="1" height="3" shape-rendering="crispEdges"/><text x="890" y="937" class="k">16 Aug 2019</text><rect x="955" y="925" width="1" height="3" shape-rendering="crispEdges"/><text x="954" y="937" class="k">4 Sep 2019</text><rect x="1019" y="925" width="1" height="3" shape-rendering="crispEdges"/><text x="1018" y="937" class="k">23 Sep 2019</text><rect x="1083" y="925" width="1" height="3" shape-rendering="crispEdges"/><text x="1082" y="937" class="k">11 Oct 2019</text><rect x="1147" y="925" width="1" height="3" shape-rendering="crispEdges"/><text x="1146" y="937" class="k">30 Oct 2019</text><rect x="1211" y="925" width="1" height="3" shape-rendering="crispEdges"/><text x="1210" y="937" class="k">18 Nov 2019</text><rect x="1275" y="925" width="1" height="3" shape-rendering="crispEdges"/><text x="1274" y="937" class="k">6 Dec 2019</text><rect x="1339" y="925" width="1" height="3" shape-rendering="crispEdges"/><text x="1338" y="937" class="k">25 Dec 2019</text><rect x="1403" y="925" width="1" height="3" shape-rendering="crispEdges"/><text x="1402" y="937" class="k">13 Jan 2020</text><rect x="1467" y="925" width="1" height="3" shape-rendering="crispEdges"/><text x="1466" y="937" class="k">31 Jan 2020</text><rect x="1531" y="925" width="1" height="3" shape-rendering="crispEdges"/><text x="1530" y="937" class="k">19 Feb 2020</text><rect x="1595" y="925" width="1" height="3" shape-rendering="crispEdges"/><text x="1594" y="937" class="k">9 Mar 2020</text></g><rect x="1650" y="20" width="1" height="925" fill="#e3e3e3"/></svg>
<div id="toolbar" style="position:absolute;left:0;top:0;width:1651px;height:19px;background:#f0f0f0;overflow:hidden;"></div>
<div style="position:absolute;left:0;top:19px;width:1651px;height:1px;background:#b9b9b9;"></div>
<div style="position:absolute;left:0;top:20px;width:1651px;height:1px;background:#6d6d6d;"></div>
<div style="position:absolute;left:-7px;top:-1.5px;font-size:12.5px;line-height:14px;color:#000;white-space:nowrap;letter-spacing:-0.3px;-webkit-text-stroke:0.25px #000;">新订单</div>
<div style="position:absolute;left:146px;top:-1.5px;font-size:12.2px;line-height:14px;color:#000;white-space:nowrap;letter-spacing:-0.4px;-webkit-text-stroke:0.25px #000;">自动交易</div>
<svg width="1651" height="19" viewBox="0 0 1651 19" style="position:absolute;left:0;top:0;overflow:hidden" font-family='"Liberation Sans", sans-serif'>
<defs>
<linearGradient id="gGold" x1="0" y1="0" x2="1" y2="1"><stop offset="0" stop-color="#f0c848"/><stop offset="0.5" stop-color="#d09818"/><stop offset="1" stop-color="#98600a"/></linearGradient>
<linearGradient id="gBlue" x1="0" y1="0" x2="0" y2="1"><stop offset="0" stop-color="#2a8cf0"/><stop offset="1" stop-color="#1068d0"/></linearGradient>
<linearGradient id="gGreenC" x1="0" y1="0" x2="1" y2="0"><stop offset="0" stop-color="#20c020"/><stop offset="0.5" stop-color="#80ff80"/><stop offset="1" stop-color="#20c020"/></linearGradient>
<linearGradient id="gLens" x1="0" y1="0" x2="0" y2="1"><stop offset="0" stop-color="#e8f8ff"/><stop offset="1" stop-color="#b8e4f8"/></linearGradient>
<linearGradient id="gGold2" x1="0" y1="0" x2="1" y2="1"><stop offset="0" stop-color="#ffe860"/><stop offset="0.45" stop-color="#ecb818"/><stop offset="1" stop-color="#d09410"/></linearGradient>
<linearGradient id="gCloud" x1="0" y1="0" x2="0" y2="1"><stop offset="0" stop-color="#ffffff"/><stop offset="0.5" stop-color="#e8edf5"/><stop offset="1" stop-color="#a8b8d8"/></linearGradient>
<radialGradient id="gSigL" cx="0.5" cy="0.5" r="0.5"><stop offset="0" stop-color="#fafafa"/><stop offset="0.8" stop-color="#f2f3f6"/><stop offset="1" stop-color="#eceef4"/></radialGradient>
<linearGradient id="gSigR" x1="0.2" y1="0" x2="0.6" y2="1"><stop offset="0" stop-color="#e4eee4"/><stop offset="0.5" stop-color="#a8d0a8"/><stop offset="1" stop-color="#38a038"/></linearGradient>
<linearGradient id="gFace" x1="0" y1="0" x2="0.6" y2="1"><stop offset="0" stop-color="#fff27a"/><stop offset="1" stop-color="#f0c030"/></linearGradient>
<pattern id="chk" width="2" height="2" patternUnits="userSpaceOnUse"><rect width="2" height="2" fill="#f8f8f8"/><rect width="1" height="1" fill="#e8e8e8"/><rect x="1" y="1" width="1" height="1" fill="#e8e8e8"/></pattern>
<g id="axes" stroke="#555" stroke-width="1" fill="#555"><path d="M3.5 2 V14.5 M1 12.5 H14" fill="none"/><path d="M3.5 0.5 L1.5 3.5 H5.5 Z" stroke="none"/><path d="M15.5 12.5 L12.5 10.5 V14.5 Z" stroke="none"/></g>
<g id="grip" fill="#a8a8a8"><rect y="1" width="3" height="1"/><rect y="3" width="3" height="1"/><rect y="5" width="3" height="1"/><rect y="7" width="3" height="1"/><rect y="9" width="3" height="1"/><rect y="11" width="3" height="1"/><rect y="13" width="3" height="1"/><rect y="15" width="3" height="1"/></g>
<path id="dd" d="M0 0 H5.4 L2.7 3 Z" fill="#000"/>
</defs>
<!-- gold book -->
<path d="M47.3 -0.5 L49.1 -0.5 L57.4 6.9 L57.7 9.6 L50.1 14.8 L42 9 L46.2 4.3 Z" fill="url(#gGold)" stroke="#a4680c" stroke-width="0.9" stroke-linejoin="round"/>
<path d="M48 1 L56.4 7.3 L50 12.6 L43.8 8.2 L47 4.6 Z" fill="url(#gGold2)"/>
<path d="M42.6 9.2 L50.1 14.2 L50.8 13.2 L43.6 8.3 Z" fill="#f8dc78" opacity="0.9"/>
<path d="M50.9 13.6 L57.2 9.2 L57 7.9 L50.6 12.6 Z" fill="#efe4b8"/>
<!-- server + cloud -->
<path d="M72 -1 H75.4 V8.5 H72 Z" fill="#08a4ff"/><path d="M75.9 -1 H83 V8.5 H75.9 Z" fill="#1a8cf8"/>
<path d="M75.65 -1 V8.5 M72 1.2 L75.6 0.2" stroke="#e8f6ff" stroke-width="0.5" fill="none"/>
<rect x="77.2" y="3.5" width="4.7" height="1.4" fill="#d8eeff"/><rect x="77.2" y="1.1" width="4.7" height="0.6" fill="#58b4ff"/>
<path d="M72.6 14.3 C69.6 14.3 69.4 10.4 72.3 10.1 C72.4 8 75 7.4 76 8.8 C77.4 6.2 81.6 6.6 82 9.3 C85.8 8.8 86.8 14.3 83.4 14.3 Z" fill="url(#gCloud)" stroke="#4a68a8" stroke-width="0.95"/>
<!-- signal -->
<circle cx="105.9" cy="7" r="7.9" fill="url(#gSigL)"/>
<path d="M105.9 -0.9 A7.9 7.9 0 0 1 105.9 14.9 Z" fill="url(#gSigR)"/>
<g fill="none" stroke-width="0.9">
<path d="M105.9 -0.7 A7.7 7.7 0 0 0 105.9 14.7" stroke="#5a80d8" opacity="0.75"/>
<path d="M105.9 2.3 A4.7 4.7 0 0 0 105.9 11.7" stroke="#4a74d4" opacity="0.8"/>
<path d="M105.9 -0.7 A7.7 7.7 0 0 1 113.6 7" stroke="#7a9cc8" opacity="0.7"/>
<path d="M113.6 7 A7.7 7.7 0 0 1 105.9 14.7" stroke="#3a8848" opacity="0.8"/>
<path d="M105.9 2.3 A4.7 4.7 0 0 1 105.9 11.7" stroke="#78a898" opacity="0.7"/>
</g>
<circle cx="105.9" cy="6.8" r="1.9" fill="#2050d0"/><rect x="105.9" y="7" width="1.3" height="7.8" fill="#18a018"/>
<!-- hat -->
<path d="M125.4 6.3 L140.8 5.6 L140.4 7.5 L134.4 14.8 L131.4 14.3 Z" fill="url(#gFace)" stroke="#d8a018" stroke-width="0.6"/>
<path d="M129.9 3.5 C130.4 0 131 -3 133 -3 C135 -3 135.6 0 136.2 3.5 Z" fill="#80c8f2"/>
<ellipse cx="132.9" cy="3.8" rx="8" ry="2.5" fill="#4aa8e0" stroke="#2a84bc" stroke-width="0.5"/>
<path d="M129.7 3.2 C130.2 -0.5 131 -3 133 -3 C135 -3 135.8 -0.5 136.3 3.2 C134.5 4.3 131.5 4.3 129.7 3.2 Z" fill="#7cc4f0"/>
<circle cx="137.5" cy="10.8" r="4" fill="#e82808" stroke="#b01808" stroke-width="0.7"/><rect x="136.1" y="9.3" width="2.9" height="2.9" fill="#fff"/>
<!-- separator + grip -->
<rect x="201" y="0" width="1" height="19" fill="#a0a0a0"/><rect x="202" y="0" width="1" height="19" fill="#fff"/>
<use href="#grip" x="205" y="0"/>
<!-- bar chart icon -->
<use href="#axes" x="216" y="0"/>
<path d="M225.7 2.7 V10.3 M225.7 3.2 H228 M223.3 9.4 H225.7" stroke="#008000" stroke-width="1.2" fill="none"/>
<rect x="239" y="0" width="1" height="17" fill="#a0a0a0"/>
<!-- candle icon (selected) -->
<rect x="240" y="0" width="24" height="17" fill="url(#chk)"/>
<use href="#axes" x="244" y="0"/>
<rect x="253" y="0" width="1" height="10.7" fill="#008000"/><rect x="251.5" y="1.7" width="4" height="7" fill="url(#gGreenC)" stroke="#008000" stroke-width="0.8"/>
<!-- line chart icon -->
<use href="#axes" x="272" y="0"/>
<path d="M274.3 9.7 C277 8 278.5 4.3 280.3 4.3 C282.5 4.3 283.5 7.5 285.7 8.3" stroke="#208020" stroke-width="1.1" fill="none"/>
<rect x="296" y="0" width="1" height="17" fill="#a0a0a0"/>
<!-- zoom in -->
<path d="M315 9.3 L320.3 13.7" stroke="#c8a000" stroke-width="2.6" stroke-linecap="round"/><path d="M315.4 8.9 L320.3 13" stroke="#f0d850" stroke-width="0.9"/>
<circle cx="311" cy="5" r="5.5" fill="url(#gLens)" stroke="#2e73c8" stroke-width="1"/>
<path d="M308 5 H314 M311 2 V8" stroke="#3a80b0" stroke-width="1.5" fill="none"/>
<!-- zoom out -->
<path d="M343 9.3 L348.3 13.7" stroke="#c8a000" stroke-width="2.6" stroke-linecap="round"/><path d="M343.4 8.9 L348.3 13" stroke="#f0d850" stroke-width="0.9"/>
<circle cx="339" cy="5" r="5.5" fill="url(#gLens)" stroke="#2e73c8" stroke-width="1"/>
<path d="M336 5 H342" stroke="#3a80b0" stroke-width="1.5" fill="none"/>
<!-- tiles -->
<rect x="361" y="-1" width="8" height="8" fill="#38a018"/><rect x="369" y="-1" width="8" height="8" fill="#2058d0"/>
<rect x="361" y="7" width="8" height="7.7" fill="#2058d0"/><rect x="369" y="7" width="8" height="7.7" fill="#38a018"/>
<g fill="#fff"><rect x="362.3" y="2" width="5.6" height="3.8"/><rect x="370.3" y="2" width="5.6" height="3.8"/><rect x="362.3" y="10" width="5.6" height="3.8"/><rect x="370.3" y="10" width="5.6" height="3.8"/></g>
<g><rect x="363.3" y="3" width="3.6" height="0.9" fill="#a0d890"/><rect x="371.3" y="3" width="3.6" height="0.9" fill="#a0b8f0"/><rect x="363.3" y="11" width="3.6" height="0.9" fill="#a0b8f0"/><rect x="371.3" y="11" width="3.6" height="0.9" fill="#a0d890"/></g>
<rect x="386" y="0" width="1" height="17" fill="#a0a0a0"/><rect x="391" y="0" width="1" height="17" fill="#a0a0a0"/>
<!-- autoscroll (selected) -->
<rect x="392" y="0" width="24" height="17" fill="url(#chk)"/>
<use href="#axes" x="396" y="0"/>
<path d="M404.2 3 L408 6.6 L404.2 10 Z" fill="#60e060" stroke="#109010" stroke-width="0.9"/>
<!-- chart shift -->
<use href="#axes" x="424" y="0"/>
<rect x="433" y="1" width="1" height="9.7" fill="#1070b0"/><path d="M434.6 6.5 H439 M434.6 6.5 L437 4.6 M434.6 6.5 L437 8.4" stroke="#c03000" stroke-width="1.1" fill="none"/>
<rect x="448" y="0" width="1" height="17" fill="#a0a0a0"/>
<!-- doc + plus -->
<path d="M458.5 -1 H466.5 L469.3 2 V12.5 H458.5 Z" fill="#fafafa" stroke="#909090" stroke-width="0.8"/>
<path d="M461 3 C460 5 460 8 461 10" stroke="#504030" stroke-width="1" fill="none"/>
<path d="M466 5.5 H470 V9 H473.6 V13 H470 V16.6 H466 V13 H462.4 V9 H466 Z" fill="#20c820" stroke="#108810" stroke-width="0.7"/>
<use href="#dd" x="480" y="6"/>
<!-- clock -->
<circle cx="504" cy="6.7" r="6.7" fill="#f6f6f6" stroke="#1a6fd8" stroke-width="2.7"/><path d="M498.3 3.2 A6.7 6.7 0 0 1 509.7 3.2" stroke="#58a8f8" stroke-width="1.4" fill="none"/>
<path d="M504 2.5 V7 H507" stroke="#000" stroke-width="1.1" fill="none"/>
<use href="#dd" x="519" y="6"/>
<!-- template -->
<rect x="535.5" y="-1" width="15.3" height="14.5" fill="#fff" stroke="#2868c0" stroke-width="1"/><rect x="535.5" y="-1" width="15.3" height="3.4" fill="#3878d0"/>
<rect x="536" y="7.2" width="14.3" height="0.9" fill="#2868c0"/>
<path d="M537.5 6.3 L539.5 6 L541 4.8 L543 4.4 L544.5 5.5 L546.5 5.2 L548.7 4.3" stroke="#a01808" stroke-width="1.2" fill="none"/>
<path d="M538 11.6 L540 11 L542 11.6 L544 10.6 L546 9.3 L547.5 10.2 L548.7 11.5" stroke="#108820" stroke-width="1.2" fill="none"/>
<use href="#dd" x="558" y="6"/>
<rect x="569" y="0" width="1" height="19" fill="#a0a0a0"/><rect x="570" y="0" width="1" height="19" fill="#fff"/>
<use href="#grip" x="573" y="0"/>
<rect x="579" y="0" width="1" height="17" fill="#a0a0a0"/>
<!-- cursor selected -->
<rect x="580" y="0" width="24" height="17" fill="url(#chk)"/>
<path d="M587.3 -1 L595 7.3 L591.7 8 L594 13 L592 14 L589.7 9 L587.3 11 Z" fill="#4a4a4a"/>
<!-- crosshair -->
<path d="M612 7.5 H618.5 M620.5 7.5 H627 M619.5 0 V6.5 M619.5 8.5 V14.7" stroke="#444" stroke-width="1" fill="none"/>
<rect x="636" y="0" width="1" height="17" fill="#a0a0a0"/>
<rect x="653" y="1" width="1" height="12.7" fill="#444"/>
<rect x="676" y="7" width="12" height="1" fill="#444"/>
<path d="M703.7 13.7 L716 2" stroke="#444" stroke-width="1" fill="none"/>
<!-- channel E -->
<g stroke="#444" stroke-width="0.9" fill="none"><path d="M730 8.7 L738 1.3 M731.3 13 L743.3 2 M735 13.7 L743.7 6"/><path d="M732.5 6.5 L733 12 M735 4.3 L735.5 10 M737.5 2 L738 8 M740 1 L740.7 6.5" stroke-width="0.7"/></g>
<text x="740.6" y="15.8" font-size="6.5" font-weight="bold" fill="#333">E</text>
<!-- fibo F -->
<g stroke="#555" stroke-width="1" stroke-dasharray="1,1" fill="none"><path d="M759 0.5 H772 M759 3.5 H772 M759 7.5 H772 M759 11.5 H768"/></g>
<text x="768.6" y="15.8" font-size="6.5" font-weight="bold" fill="#333">F</text>
<!-- A -->
<text x="789.2" y="12" font-size="12.5" font-weight="bold" fill="#555">A</text>
<!-- T box -->
<rect x="816.5" y="1.5" width="11" height="12" fill="none" stroke="#555" stroke-width="1" stroke-dasharray="1,1"/>
<path d="M818.3 4.5 H825.7 M822 4.5 V11.7" stroke="#555" stroke-width="1.3" fill="none"/><rect x="815" y="-1" width="2" height="2.5" fill="#444"/>
<!-- arrows -->
<path d="M843 5 L846.4 1 L849.7 5 Z M850.3 10 L853.7 13.7 L857 10 Z" fill="#444"/><path d="M845.3 8.3 L847.7 10.7 L851.7 5.3" stroke="#444" stroke-width="1.3" fill="none"/>
<use href="#dd" x="864" y="6"/>
<rect x="875" y="0" width="1" height="19" fill="#a0a0a0"/><rect x="876" y="0" width="1" height="19" fill="#fff"/>
<use href="#grip" x="879" y="0"/>
<!-- timeframes -->
<rect x="1053" y="0" width="1" height="17" fill="#a0a0a0"/>
<rect x="1054" y="0" width="24" height="17" fill="url(#chk)"/>
<g font-size="9.4" fill="#444">
<text x="890.3" y="10.9">M1</text><text x="918.4" y="10.9">M5</text><text x="944.4" y="10.9">M15</text><text x="972.4" y="10.9">M30</text>
<text x="1003.3" y="10.9">H1</text><text x="1030.5" y="10.9">H4</text><text x="1059.7" y="10.9">D1</text><text x="1087" y="10.9">W1</text><text x="1113.6" y="10.9">MN</text>
</g>
<rect x="1136" y="0" width="1" height="19" fill="#a0a0a0"/>
<!-- search -->
<path d="M1603.4 7.8 L1599 12" stroke="#1850c8" stroke-width="2.4" stroke-linecap="round"/>
<circle cx="1606.7" cy="4.3" r="3.9" fill="#fff" stroke="#2060d8" stroke-width="1.3"/>
<!-- chat bubbles -->
<path d="M1642 10.8 L1640 8.6 C1634 9 1632.3 6.5 1632.3 4.3 C1632.3 1.5 1635 -0.3 1639 -0.3 C1643 -0.3 1645.7 1.8 1645.7 4.3 C1645.7 6.5 1644 8 1642.3 8.5 Z" fill="#f2f2f6" stroke="#858585" stroke-width="1"/>
<path d="M1627.3 13.8 L1628.3 11.6 C1626 11 1624.9 9.6 1624.9 8 C1624.9 5.8 1627.3 4.1 1630.3 4.1 C1633.3 4.1 1635.7 5.8 1635.7 8 C1635.7 10.2 1633.3 11.9 1630.3 11.9 Z" fill="#f4f4f8" stroke="#858585" stroke-width="1"/>
</svg>
<!-- chart title -->
<div style="position:absolute;left:0;top:26px;height:12px;font-size:9.3px;line-height:12px;color:#000;white-space:nowrap;">
<span style="position:absolute;left:-2px;top:4px;width:0;height:0;border-left:3.5px solid transparent;border-right:3.5px solid transparent;border-bottom:4px solid #000;"></span>
<span style="position:absolute;left:10.5px;top:0;">DJ30-,Daily&nbsp; 24665.0 24782.0 23424.0 24030.0</span>
</div>
<!-- one click trading panel -->
<div id="oct" style="position:absolute;left:0;top:43px;width:217px;height:64px;">
  <div style="position:absolute;left:0;top:0;width:50px;height:25px;background:linear-gradient(#f24c4c,#e63a3a);"></div>
  <div style="position:absolute;left:165px;top:0;width:52px;height:25px;background:linear-gradient(#f24c4c,#e63a3a);"></div>
  <div style="position:absolute;left:0;top:24px;width:107px;height:40px;background:linear-gradient(#e53838,#b80404);"></div>
  <div style="position:absolute;left:109px;top:24px;width:108px;height:40px;background:linear-gradient(#e53838,#b80404);"></div>
  <div style="position:absolute;left:2px;top:23px;width:44px;height:1px;background:#f79090;"></div>
  <div style="position:absolute;left:169px;top:23px;width:44px;height:1px;background:#f79090;"></div>
  <div style="position:absolute;left:10px;top:5px;font-size:12px;line-height:14px;color:#fff;transform:scaleX(0.9);transform-origin:0 0;">SELL</div>
  <div style="position:absolute;left:178.5px;top:5px;font-size:12px;line-height:14px;color:#fff;transform:scaleX(0.94);transform-origin:0 0;">BUY</div>
  <div style="position:absolute;left:52px;top:0;width:109px;height:19px;border:1px solid #b4b4b4;background:#fff;box-sizing:content-box;">
     <div style="position:absolute;left:1px;top:1px;width:18px;height:17px;background:linear-gradient(#f0f0f0,#d4d4d4);border-right:1px solid #c0c0c0;"></div>
     <div style="position:absolute;left:88.5px;top:1px;width:18.5px;height:17px;background:linear-gradient(#f0f0f0,#d4d4d4);border-left:1px solid #c0c0c0;"></div>
     <div style="position:absolute;left:7px;top:8.5px;width:0;height:0;border-left:3px solid transparent;border-right:3px solid transparent;border-top:3.5px solid #4a68c0;"></div>
     <div style="position:absolute;left:95px;top:7.5px;width:0;height:0;border-left:3px solid transparent;border-right:3px solid transparent;border-bottom:3.5px solid #4a68c0;"></div>
     <div style="position:absolute;right:24px;top:3px;font-size:12px;line-height:14px;color:#000;">1.00</div>
  </div>
  <div style="position:absolute;left:14.3px;top:44px;font-size:12.5px;line-height:14px;font-weight:bold;color:#fff;">24028</div>
  <div style="position:absolute;left:124.3px;top:44px;font-size:12.5px;line-height:14px;font-weight:bold;color:#fff;">24045</div>
  <div style="position:absolute;left:52.2px;top:25px;font-size:34px;line-height:38px;color:#fff;transform:scaleX(0.8);transform-origin:0 0;white-space:nowrap;">.</div><div style="position:absolute;left:60px;top:25px;font-size:34px;line-height:38px;color:#fff;transform:scaleX(0.86);transform-origin:0 0;white-space:nowrap;">5</div>
  <div style="position:absolute;left:162.2px;top:25px;font-size:34px;line-height:38px;color:#fff;transform:scaleX(0.8);transform-origin:0 0;white-space:nowrap;">.</div><div style="position:absolute;left:170px;top:25px;font-size:34px;line-height:38px;color:#fff;transform:scaleX(0.86);transform-origin:0 0;white-space:nowrap;">5</div>
</div>

</body></html>
